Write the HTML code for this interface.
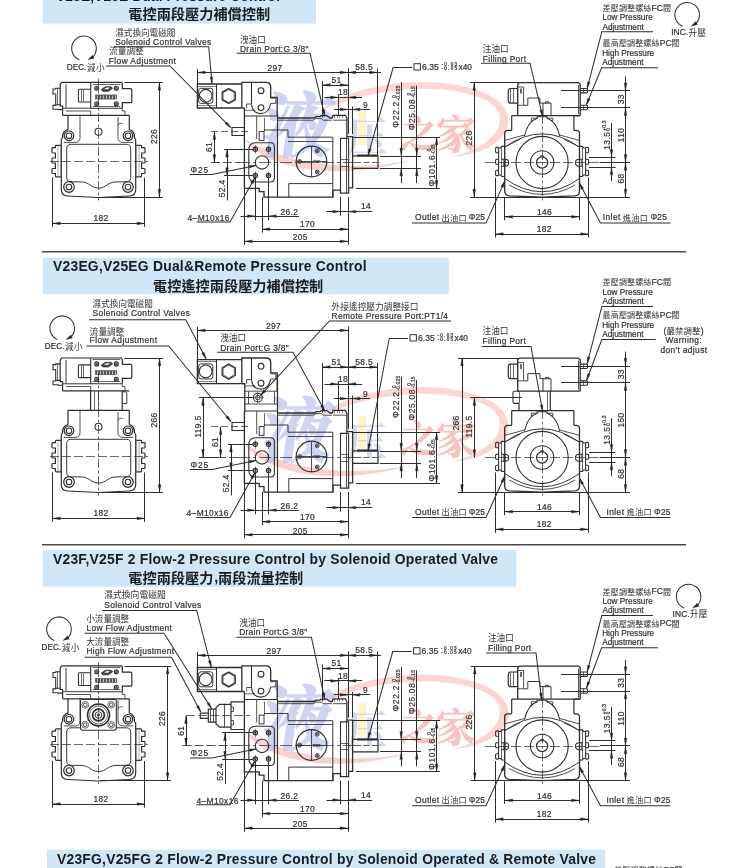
<!DOCTYPE html>
<html lang="zh-Hant"><head><meta charset="utf-8"><title>V23/V25 Pressure Control Dimensions</title>
<style>
html,body{margin:0;padding:0;background:#fff}
body{width:750px;height:868px;overflow:hidden;font-family:"Liberation Sans",sans-serif}
svg{display:block;will-change:transform;filter:blur(0.35px);font-family:"Liberation Sans",sans-serif}
.cj{font-family:"Liberation Sans","Noto Sans CJK TC",sans-serif}
.wm{font-family:"Liberation Serif","Noto Serif CJK SC",serif;font-weight:700}
</style></head><body>
<svg width="750" height="868" viewBox="0 0 750 868">
<defs><filter id="wb" x="-5%" y="-5%" width="110%" height="110%"><feGaussianBlur stdDeviation="0.7"/></filter></defs>
<rect x="42.8" y="-5" width="273.2" height="28.6" fill="#d0e7f8"/>
<text x="56" y="0.9" font-size="13.9" font-weight="700" textLength="224" lengthAdjust="spacing" fill="#1c1c1c">V23E,V25E Dual Pressure Control</text>
<text class="cj" x="128.3" y="18.6" font-size="14.2" font-weight="700" fill="#1c1c1c">電控兩段壓力補償控制</text>
<rect x="42.8" y="257.8" width="406" height="36.4" fill="#d0e7f8"/>
<text x="53" y="271.4" font-size="13.9" font-weight="700" textLength="313.6" lengthAdjust="spacing" fill="#1c1c1c">V23EG,V25EG Dual&amp;Remote Pressure Control</text>
<text class="cj" x="153" y="290.6" font-size="14.2" font-weight="700" fill="#1c1c1c">電控遙控兩段壓力補償控制</text>
<rect x="42.8" y="550.2" width="473.6" height="36.6" fill="#d0e7f8"/>
<text x="53" y="563.8" font-size="13.9" font-weight="700" textLength="445" lengthAdjust="spacing" fill="#1c1c1c">V23F,V25F 2 Flow-2 Pressure Control by Solenoid Operated Valve</text>
<text class="cj" x="128.3" y="582.6" font-size="14.2" font-weight="700" fill="#1c1c1c">電控兩段壓力</text>
<text x="214.3" y="582.1" font-size="14" font-weight="700" fill="#1c1c1c">,</text>
<text class="cj" x="218" y="582.6" font-size="14.2" font-weight="700" fill="#1c1c1c">兩段流量控制</text>
<rect x="47" y="849.8" width="558.2" height="25.2" fill="#d0e7f8"/>
<text x="57" y="863.7" font-size="13.9" font-weight="700" textLength="539" lengthAdjust="spacing" fill="#1c1c1c">V23FG,V25FG 2 Flow-2 Pressure Control by Solenoid Operated &amp; Remote Valve</text>
<rect x="42" y="251" width="644" height="1.5" fill="#4a4a4a"/>
<rect x="42" y="544" width="644" height="1.5" fill="#4a4a4a"/>
<g transform="translate(0 0)" filter="url(#wb)">
<path d="M245,139 C262,166 330,184 412,160 C352,172 290,166 245,139Z" fill="#f4a6a2" opacity="0.52"/>
<path d="M318,112 C350,84 430,72 482,92 C510,103 516,124 499,140 C488,150 472,155 452,157 C476,150 490,142 497,130 C506,112 494,100 468,94 C420,82 362,92 318,112Z" fill="#f4a6a2" opacity="0.45"/>
<g transform="translate(260 151) skewX(-8)">
<text class="wm" x="0" y="0" font-size="70" fill="#b4c0e8" stroke="#b4c0e8" stroke-width="1.54" stroke-linejoin="round" opacity="0.66">液</text>
</g>
<rect x="358" y="111" width="8.5" height="34" fill="#fbefb4" opacity="0.7"/>
<text class="wm" x="347" y="151" font-size="40" fill="#c0c9ec" opacity="0.7">压</text>
<text class="wm" x="400" y="147" font-size="38" fill="#f29e99" stroke="#f29e99" stroke-width="0.53" stroke-linejoin="round" opacity="0.62">之</text>
<text class="wm" x="436" y="149" font-size="40" fill="#f29e99" stroke="#f29e99" stroke-width="0.56" stroke-linejoin="round" opacity="0.62">家</text>
</g>
<g transform="translate(0 305)" filter="url(#wb)">
<path d="M245,139 C262,166 330,184 412,160 C352,172 290,166 245,139Z" fill="#f4a6a2" opacity="0.52"/>
<path d="M318,112 C350,84 430,72 482,92 C510,103 516,124 499,140 C488,150 472,155 452,157 C476,150 490,142 497,130 C506,112 494,100 468,94 C420,82 362,92 318,112Z" fill="#f4a6a2" opacity="0.45"/>
<g transform="translate(260 151) skewX(-8)">
<text class="wm" x="0" y="0" font-size="70" fill="#b4c0e8" stroke="#b4c0e8" stroke-width="1.54" stroke-linejoin="round" opacity="0.66">液</text>
</g>
<rect x="358" y="111" width="8.5" height="34" fill="#fbefb4" opacity="0.7"/>
<text class="wm" x="347" y="151" font-size="40" fill="#c0c9ec" opacity="0.7">压</text>
<text class="wm" x="400" y="147" font-size="38" fill="#f29e99" stroke="#f29e99" stroke-width="0.53" stroke-linejoin="round" opacity="0.62">之</text>
<text class="wm" x="436" y="149" font-size="40" fill="#f29e99" stroke="#f29e99" stroke-width="0.56" stroke-linejoin="round" opacity="0.62">家</text>
</g>
<g transform="translate(0 592.5)" filter="url(#wb)">
<path d="M245,139 C262,166 330,184 412,160 C352,172 290,166 245,139Z" fill="#f4a6a2" opacity="0.52"/>
<path d="M318,112 C350,84 430,72 482,92 C510,103 516,124 499,140 C488,150 472,155 452,157 C476,150 490,142 497,130 C506,112 494,100 468,94 C420,82 362,92 318,112Z" fill="#f4a6a2" opacity="0.45"/>
<g transform="translate(260 151) skewX(-8)">
<text class="wm" x="0" y="0" font-size="70" fill="#b4c0e8" stroke="#b4c0e8" stroke-width="1.54" stroke-linejoin="round" opacity="0.66">液</text>
</g>
<rect x="358" y="111" width="8.5" height="34" fill="#fbefb4" opacity="0.7"/>
<text class="wm" x="347" y="151" font-size="40" fill="#c0c9ec" opacity="0.7">压</text>
<text class="wm" x="400" y="147" font-size="38" fill="#f29e99" stroke="#f29e99" stroke-width="0.53" stroke-linejoin="round" opacity="0.62">之</text>
<text class="wm" x="436" y="149" font-size="40" fill="#f29e99" stroke="#f29e99" stroke-width="0.56" stroke-linejoin="round" opacity="0.62">家</text>
</g>
<g transform="translate(0 0)">
<path d="M60.2,84.3 L61.8,82.4 H121.5 L122.3,83.5 V88.7 H130.5 Q131.8,88.7 131.8,90 V101.4 Q131.8,102.7 130.5,102.7 H122.3 V108.2" stroke="#2e2e2e" stroke-width="1.2" fill="none"/>
<path d="M60.2,84.3 V106 H62.6 V115.3" stroke="#2e2e2e" stroke-width="1.2" fill="none"/>
<path d="M60.2,88.3 H55.7 V89 H53 V94 H55.7 V94.7" stroke="#2e2e2e" stroke-width="1.08" fill="none"/>
<path d="M55.7,94.7 V105 M60.2,104.8 H55.7 V105.4 H53 V109.2 H58 V109.6 H62.6" stroke="#2e2e2e" stroke-width="1.08" fill="none"/>
<line x1="57.5" y1="88.3" x2="57.5" y2="105" stroke="#2e2e2e" stroke-width="0.72"/>
<path d="M66,84.3 V108.2 H90.7" stroke="#2e2e2e" stroke-width="0.96" fill="none"/>
<path d="M62.6,108.2 H66 M66,111 H90.7 V115.3" stroke="#2e2e2e" stroke-width="0.84" fill="none"/>
<path d="M90.7,89.3 H79.5 Q78.4,89.3 78.4,90.4 V100.9 Q78.4,102 79.5,102 H90.7" stroke="#2e2e2e" stroke-width="1.08" fill="none"/>
<line x1="81.5" y1="90" x2="81.5" y2="101.3" stroke="#2e2e2e" stroke-width="0.72"/>
<line x1="83.5" y1="90" x2="83.5" y2="101.3" stroke="#2e2e2e" stroke-width="0.72"/>
<path d="M90.7,82.4 V108.2 H122.3" stroke="#2e2e2e" stroke-width="1.08" fill="none"/>
<line x1="92.7" y1="84.5" x2="120.3" y2="84.5" stroke="#2e2e2e" stroke-width="0.72"/>
<line x1="92.7" y1="106.5" x2="120.3" y2="106.5" stroke="#2e2e2e" stroke-width="0.72"/>
<circle cx="96.7" cy="88.3" r="2" stroke="#2e2e2e" stroke-width="1.08" fill="none"/>
<circle cx="96.7" cy="88.3" r="1" stroke="#2e2e2e" stroke-width="0.72" fill="#777"/>
<circle cx="96.7" cy="103.7" r="2" stroke="#2e2e2e" stroke-width="1.08" fill="none"/>
<circle cx="96.7" cy="103.7" r="1" stroke="#2e2e2e" stroke-width="0.72" fill="#777"/>
<circle cx="116.3" cy="88.3" r="2" stroke="#2e2e2e" stroke-width="1.08" fill="none"/>
<circle cx="116.3" cy="88.3" r="1" stroke="#2e2e2e" stroke-width="0.72" fill="#777"/>
<circle cx="116.3" cy="103.7" r="2" stroke="#2e2e2e" stroke-width="1.08" fill="none"/>
<circle cx="116.3" cy="103.7" r="1" stroke="#2e2e2e" stroke-width="0.72" fill="#777"/>
<path d="M101.2,89.6 L105.6,86.7 H111 L112.6,88.3 L108.4,91.3 H102.8Z" stroke="#2e2e2e" stroke-width="0.84" fill="#444"/>
<path d="M104.6,89.1 L106.4,87.8 H109.6 L108,89.1Z" stroke="#fff" stroke-width="0.36" fill="#fff"/>
<rect x="95.4" y="94.9" width="21.4" height="4.2" stroke="#2e2e2e" stroke-width="0.36" fill="#555"/>
<line x1="97.5" y1="95.6" x2="97.5" y2="98.6" stroke="#ddd" stroke-width="0.84"/>
<line x1="100.5" y1="95.6" x2="100.5" y2="98.6" stroke="#ddd" stroke-width="0.84"/>
<line x1="103.5" y1="95.6" x2="103.5" y2="98.6" stroke="#ddd" stroke-width="0.84"/>
<line x1="106.5" y1="95.6" x2="106.5" y2="98.6" stroke="#ddd" stroke-width="0.84"/>
<line x1="109.5" y1="95.6" x2="109.5" y2="98.6" stroke="#ddd" stroke-width="0.84"/>
<line x1="112.5" y1="95.6" x2="112.5" y2="98.6" stroke="#ddd" stroke-width="0.84"/>
<line x1="115.5" y1="95.6" x2="115.5" y2="98.6" stroke="#ddd" stroke-width="0.84"/>
<path d="M62.6,115.3 H129.3" stroke="#2e2e2e" stroke-width="1.2" fill="none"/>
<path d="M122.3,108.2 V111 H125 V115.3" stroke="#2e2e2e" stroke-width="0.84" fill="none"/>
<path d="M68,115.3 V129.7 M129.3,115.3 V129.7" stroke="#2e2e2e" stroke-width="1.2" fill="none"/>
<path d="M80,115.3 V137.5 Q80,142.4 75,142.4 H63.8" stroke="#2e2e2e" stroke-width="0.84" fill="none"/>
<path d="M118,117 V137.5 Q118,142.4 123,142.4 H133.2" stroke="#2e2e2e" stroke-width="0.84" fill="none"/>
<path d="M118,125.7 Q118,123.3 120.2,123.3 H123" stroke="#2e2e2e" stroke-width="0.72" fill="none"/>
<path d="M68,129.7 A6.4,6.4 0 0 0 62.7,137.2 L61.3,139.8 V189.5 Q61.3,195.6 67.5,196 L98.5,197.5 L129.5,196 Q135.7,195.6 135.7,189.5 V139.8 L134.3,137.2 A6.4,6.4 0 0 0 129.3,129.7" stroke="#2e2e2e" stroke-width="1.2" fill="none"/>
<circle cx="69" cy="135.8" r="4.8" stroke="#2e2e2e" stroke-width="1.2" fill="none"/>
<circle cx="69" cy="135.8" r="2.8" stroke="#2e2e2e" stroke-width="1.08" fill="none"/>
<circle cx="69" cy="187" r="5.3" stroke="#2e2e2e" stroke-width="1.2" fill="none"/>
<circle cx="69" cy="187" r="2.8" stroke="#2e2e2e" stroke-width="1.08" fill="none"/>
<circle cx="128" cy="135.8" r="4.8" stroke="#2e2e2e" stroke-width="1.2" fill="none"/>
<circle cx="128" cy="135.8" r="2.8" stroke="#2e2e2e" stroke-width="1.08" fill="none"/>
<circle cx="128" cy="187" r="5.3" stroke="#2e2e2e" stroke-width="1.2" fill="none"/>
<circle cx="128" cy="187" r="2.8" stroke="#2e2e2e" stroke-width="1.08" fill="none"/>
<path d="M66.7,148.5 Q66.7,144.3 71,144.3 H126.3 Q130.7,144.3 130.7,148.5 V177.5 Q130.7,181.8 126,181.8 L116,181.9 C107,182.3 106.5,188 98.6,188 C90.5,188 90,182.3 81.5,181.9 L71,181.8 Q66.7,181.8 66.7,177.5Z" stroke="#2e2e2e" stroke-width="0.96" fill="none"/>
<path d="M61.3,145.3 H56.4 Q55.4,145.3 55.4,146.3 V147.6 V147.6 H52.8 Q52,147.6 52,148.4 V152.2 Q52,153 52.8,153 H55.4 V158 H52.8 Q52,158 52,158.8 V162.2 Q52,163 52.8,163 H55.4 V168.5 H52.8 Q52,168.5 52,169.3 V172.7 Q52,173.5 52.8,173.5 H55.4 V175.8 Q55.4,176.8 56.4,176.8 H61.3" stroke="#2e2e2e" stroke-width="1.2" fill="none"/>
<path d="M60.5,145.3 V176.8 M58,145.3 V176.8" stroke="#777" stroke-width="0.6" fill="none"/>
<path d="M135.7,145.3 H140.6 Q141.6,145.3 141.6,146.3 V147.6 V147.6 H144.2 Q145,147.6 145,148.4 V152.2 Q145,153 144.2,153 H141.6 V158 H144.2 Q145,158 145,158.8 V162.2 Q145,163 144.2,163 H141.6 V168.5 H144.2 Q145,168.5 145,169.3 V172.7 Q145,173.5 144.2,173.5 H141.6 V175.8 Q141.6,176.8 140.6,176.8 H135.7" stroke="#2e2e2e" stroke-width="1.2" fill="none"/>
<path d="M136.5,145.3 V176.8 M139,145.3 V176.8" stroke="#777" stroke-width="0.6" fill="none"/>
<circle cx="98.5" cy="131.7" r="3.5" stroke="#2e2e2e" stroke-width="1.08" fill="none"/>
<line x1="98.5" y1="79" x2="98.5" y2="200.5" stroke="#2e2e2e" stroke-width="0.72" stroke-dasharray="9 2.5 3 2.5"/>
<line x1="50" y1="161.5" x2="148" y2="161.5" stroke="#2e2e2e" stroke-width="0.72" stroke-dasharray="9 3"/>
</g>
<g transform="translate(0 0)">
<path d="M241.8,84 H197.4 V108 H241.8" stroke="#2e2e2e" stroke-width="1.32" fill="none"/>
<line x1="216.5" y1="84" x2="216.5" y2="108" stroke="#2e2e2e" stroke-width="1.08"/>
<line x1="197.4" y1="86.5" x2="216.3" y2="86.5" stroke="#2e2e2e" stroke-width="0.6"/>
<line x1="197.4" y1="105.5" x2="216.3" y2="105.5" stroke="#2e2e2e" stroke-width="0.6"/>
<rect x="198.7" y="88.3" width="14.1" height="15" rx="2.2" stroke="#2e2e2e" stroke-width="0.96" fill="none"/>
<circle cx="205.7" cy="95.8" r="6.4" stroke="#2e2e2e" stroke-width="1.08" fill="none"/>
<path d="M228.7,88.4 L235.28,92.2 L235.28,99.8 L228.7,103.6 L222.12,99.8 L222.12,92.2Z" stroke="#2e2e2e" stroke-width="1.2" fill="none"/>
<path d="M228.7,89.5 L234.33,92.75 L234.33,99.25 L228.7,102.5 L223.07,99.25 L223.07,92.75Z" stroke="#2e2e2e" stroke-width="0.72" fill="none"/>
<path d="M241.8,108 V82.4 H266 Q270.7,82.4 270.7,87.2 V97.3 H277.2 V116" stroke="#2e2e2e" stroke-width="1.32" fill="none"/>
<line x1="251.5" y1="82.4" x2="251.5" y2="104.5" stroke="#2e2e2e" stroke-width="1.08"/>
<path d="M251.7,104.5 Q252.3,113.4 261,113.6 Q268.8,113.4 270.7,103.5" stroke="#2e2e2e" stroke-width="1.08" fill="none"/>
<circle cx="261" cy="90.7" r="2.9" stroke="#2e2e2e" stroke-width="1.08" fill="none"/>
<circle cx="261" cy="107.6" r="2.9" stroke="#2e2e2e" stroke-width="1.08" fill="none"/>
<path d="M246.6,108 V104 H251.7" stroke="#2e2e2e" stroke-width="0.84" fill="none"/>
<path d="M270.7,98.2 H275.8 V103.4 H270.7" stroke="#2e2e2e" stroke-width="0.84" fill="none"/>
<path d="M241.8,108 H244.4" stroke="#2e2e2e" stroke-width="1.32" fill="none"/>
<path d="M244.4,110.3 H255" stroke="#2e2e2e" stroke-width="0.72" fill="none"/>
<path d="M244.4,108 V188.4 H259.2 V191.6 H264 V197.2 H333 V190.2 H340.5 V193.1 H348.6 V187.9 H352.6 V136.7 H346.9 V118" stroke="#2e2e2e" stroke-width="1.32" fill="none"/>
<path d="M244.4,116 H277.2" stroke="#2e2e2e" stroke-width="1.08" fill="none"/>
<line x1="277.5" y1="116" x2="277.5" y2="197.2" stroke="#2e2e2e" stroke-width="1.08"/>
<path d="M277.2,118 H314.5 L316,116.6 H320 L321,115.6 H327 L328,116.6 L330,118 H332 L333,115.4 H345.4 L346.9,118" stroke="#2e2e2e" stroke-width="1.32" fill="none"/>
<path d="M277.2,120.2 H313 L315.5,118.6 H321.5 L323,120.2 H332" stroke="#2e2e2e" stroke-width="0.84" fill="none"/>
<line x1="334.5" y1="115.4" x2="334.5" y2="118" stroke="#2e2e2e" stroke-width="0.6"/>
<line x1="337.5" y1="115.4" x2="337.5" y2="118" stroke="#2e2e2e" stroke-width="0.6"/>
<line x1="339.5" y1="115.4" x2="339.5" y2="118" stroke="#2e2e2e" stroke-width="0.6"/>
<line x1="342.5" y1="115.4" x2="342.5" y2="118" stroke="#2e2e2e" stroke-width="0.6"/>
<path d="M333,120.2 H346.9" stroke="#2e2e2e" stroke-width="0.84" fill="none"/>
<path d="M340.5,190.2 V138.4 H348.6 V187.9" stroke="#2e2e2e" stroke-width="1.08" fill="none"/>
<line x1="346.5" y1="136.7" x2="346.5" y2="193.1" stroke="#2e2e2e" stroke-width="0.84"/>
<line x1="340.5" y1="159.5" x2="348.6" y2="159.5" stroke="#2e2e2e" stroke-width="0.72"/>
<line x1="340.5" y1="166.5" x2="348.6" y2="166.5" stroke="#2e2e2e" stroke-width="0.72"/>
<path d="M352.6,155.8 H378 V168.3 H352.6" stroke="#2e2e2e" stroke-width="1.2" fill="none"/>
<line x1="357" y1="155.5" x2="377.4" y2="155.5" stroke="#2e2e2e" stroke-width="2.04"/>
<line x1="355" y1="162.5" x2="381" y2="162.5" stroke="#2e2e2e" stroke-width="0.72" stroke-dasharray="6 2.5"/>
<path d="M264,130 H288 V137.2 H332.8 V197.2" stroke="#2e2e2e" stroke-width="0.96" fill="none"/>
<line x1="288" y1="141.5" x2="332.8" y2="141.5" stroke="#2e2e2e" stroke-width="0.84"/>
<path d="M256.7,116 V139" stroke="#2e2e2e" stroke-width="0.84" fill="none"/>
<rect x="259.2" y="131.6" width="4.8" height="8.8" stroke="#2e2e2e" stroke-width="0.96" fill="none"/>
<line x1="264.5" y1="118" x2="264.5" y2="131.6" stroke="#2e2e2e" stroke-width="0.72"/>
<path d="M255.5,142.8 H270.5 Q274.4,142.8 274.4,146.8 V178 Q274.4,182 270.5,182 H255.5 Q248.8,182 248.8,175 V150 Q248.8,142.8 255.5,142.8Z" stroke="#2e2e2e" stroke-width="1.08" fill="none"/>
<circle cx="255.3" cy="149.3" r="2.2" stroke="#2e2e2e" stroke-width="1.08" fill="none"/>
<circle cx="255.3" cy="149.3" r="1" stroke="#2e2e2e" stroke-width="0.6" fill="#666"/>
<line x1="255.5" y1="145.3" x2="255.5" y2="153.8" stroke="#2e2e2e" stroke-width="0.6"/>
<circle cx="255.3" cy="175.6" r="2.2" stroke="#2e2e2e" stroke-width="1.08" fill="none"/>
<circle cx="255.3" cy="175.6" r="1" stroke="#2e2e2e" stroke-width="0.6" fill="#666"/>
<line x1="255.5" y1="171.6" x2="255.5" y2="180.1" stroke="#2e2e2e" stroke-width="0.6"/>
<circle cx="268.5" cy="149.3" r="2.2" stroke="#2e2e2e" stroke-width="1.08" fill="none"/>
<circle cx="268.5" cy="149.3" r="1" stroke="#2e2e2e" stroke-width="0.6" fill="#666"/>
<line x1="268.5" y1="145.3" x2="268.5" y2="153.8" stroke="#2e2e2e" stroke-width="0.6"/>
<circle cx="268.5" cy="175.6" r="2.2" stroke="#2e2e2e" stroke-width="1.08" fill="none"/>
<circle cx="268.5" cy="175.6" r="1" stroke="#2e2e2e" stroke-width="0.6" fill="#666"/>
<line x1="268.5" y1="171.6" x2="268.5" y2="180.1" stroke="#2e2e2e" stroke-width="0.6"/>
<circle cx="262" cy="162.4" r="6.7" stroke="#2e2e2e" stroke-width="1.08" fill="none"/>
<circle cx="311.5" cy="161.5" r="15.3" stroke="#2e2e2e" stroke-width="1.2" fill="none"/>
<circle cx="317.3" cy="150.8" r="1.9" stroke="#2e2e2e" stroke-width="0.96" fill="none"/>
<circle cx="317.3" cy="150.8" r="0.9" stroke="#2e2e2e" stroke-width="0.6" fill="#666"/>
<circle cx="299.6" cy="161.5" r="1.9" stroke="#2e2e2e" stroke-width="0.96" fill="none"/>
<circle cx="299.6" cy="161.5" r="0.9" stroke="#2e2e2e" stroke-width="0.6" fill="#666"/>
<circle cx="317.3" cy="172" r="1.9" stroke="#2e2e2e" stroke-width="0.96" fill="none"/>
<circle cx="317.3" cy="172" r="0.9" stroke="#2e2e2e" stroke-width="0.6" fill="#666"/>
<line x1="311.5" y1="146.5" x2="311.5" y2="176.5" stroke="#2e2e2e" stroke-width="0.84"/>
<line x1="297" y1="161.5" x2="326.5" y2="161.5" stroke="#2e2e2e" stroke-width="0.84"/>
<rect x="313.5" y="160.8" width="6.5" height="1.8" stroke="#2e2e2e" stroke-width="0.6" fill="none"/>
<path d="M288.8,197.2 V183.6 H332.8" stroke="#2e2e2e" stroke-width="0.96" fill="none"/>
<line x1="238" y1="162.5" x2="358" y2="162.5" stroke="#2e2e2e" stroke-width="0.72" stroke-dasharray="12 3 3 3"/>
<path d="M244.4,127.5 H232 V135.5 H244.4" stroke="#2e2e2e" stroke-width="1.2" fill="none"/>
<line x1="211" y1="131.5" x2="249" y2="131.5" stroke="#2e2e2e" stroke-width="0.72" stroke-dasharray="7 3"/>
</g>
<g transform="translate(0 0)">
<path d="M519.3,82.6 H578.6 L580.2,84.2 V115.6 M517.7,115.6 V84.2 L519.3,82.6" stroke="#2e2e2e" stroke-width="1.32" fill="none"/>
<path d="M517.7,88.5 H510.5 Q508.3,88.5 508.3,90.7 V100.9 Q508.3,103.1 510.5,103.1 H517.7" stroke="#2e2e2e" stroke-width="1.2" fill="none"/>
<line x1="510.5" y1="89" x2="510.5" y2="102.6" stroke="#2e2e2e" stroke-width="0.72"/>
<line x1="513.5" y1="88.5" x2="513.5" y2="103.1" stroke="#2e2e2e" stroke-width="0.72"/>
<path d="M517.7,87 H523.6 V105.3 H517.7" stroke="#2e2e2e" stroke-width="0.84" fill="none"/>
<line x1="520.5" y1="88.5" x2="520.5" y2="93.5" stroke="#2e2e2e" stroke-width="0.72"/>
<line x1="521.5" y1="88.5" x2="521.5" y2="93.5" stroke="#2e2e2e" stroke-width="0.72"/>
<line x1="578.5" y1="85" x2="578.5" y2="114" stroke="#2e2e2e" stroke-width="0.84"/>
<path d="M580.2,88.5 H586.6 Q587.5,88.5 587.5,89.4 V92 Q587.5,92.9 586.6,92.9 H580.2" stroke="#2e2e2e" stroke-width="1.08" fill="none"/>
<line x1="583.5" y1="88.5" x2="583.5" y2="92.9" stroke="#2e2e2e" stroke-width="0.72"/>
<path d="M580.2,105.3 H586.6 Q587.5,105.3 587.5,106.2 V108.8 Q587.5,109.7 586.6,109.7 H580.2" stroke="#2e2e2e" stroke-width="1.08" fill="none"/>
<line x1="583.5" y1="105.3" x2="583.5" y2="109.7" stroke="#2e2e2e" stroke-width="0.72"/>
<path d="M523.6,105.3 H527.8 V98 H539.9 V103 H543 V115.6" stroke="#2e2e2e" stroke-width="0.96" fill="none"/>
<path d="M543,103.2 H551 V115.6 M545.4,103.2 V101.8 H548.8 V103.2" stroke="#2e2e2e" stroke-width="0.96" fill="none"/>
<path d="M517.7,115.6 H580.2" stroke="#2e2e2e" stroke-width="1.2" fill="none"/>
<path d="M517.7,115.6 H511.7 M573.9,115.6 H580.2" stroke="#2e2e2e" stroke-width="1.2" fill="none"/>
<path d="M511.7,115.6 V130.3 M573.9,115.6 V130.3" stroke="#2e2e2e" stroke-width="1.2" fill="none"/>
<path d="M511.7,130.3 H508 Q504.7,130.3 504.7,133.6 V191 Q504.7,195.6 509.5,195.9 L542.1,197.2 L574.7,195.9 Q579.5,195.6 579.5,191 V133.6 Q579.5,130.3 576.2,130.3 H573.9" stroke="#2e2e2e" stroke-width="1.32" fill="none"/>
<path d="M542.1,116.7 H537.2 V118.2 C529.5,120.6 526.2,128.5 524.5,136" stroke="#2e2e2e" stroke-width="1.08" fill="none"/>
<path d="M537.2,118.2 H531.4 V121 H532.8" stroke="#2e2e2e" stroke-width="0.84" fill="none"/>
<line x1="504.7" y1="140.4" x2="524.5" y2="135" stroke="#2e2e2e" stroke-width="0.84"/>
<line x1="504.7" y1="147" x2="520.3" y2="139.2" stroke="#2e2e2e" stroke-width="0.84"/>
<path d="M504.7,146.4 H501.8 L500.6,148 H498.6 V175 H500.6 L501.8,176.5 H504.7" stroke="#2e2e2e" stroke-width="1.08" fill="none"/>
<line x1="501.5" y1="146.4" x2="501.5" y2="176.5" stroke="#2e2e2e" stroke-width="0.72"/>
<path d="M498.6,147.4 H496.6 Q495.6,147.4 495.6,148.4 V151.8 Q495.6,152.8 496.6,152.8 H498.6" stroke="#2e2e2e" stroke-width="1.08" fill="none"/>
<path d="M498.6,159.2 H496.6 Q495.6,159.2 495.6,160.2 V163.2 Q495.6,164.2 496.6,164.2 H498.6" stroke="#2e2e2e" stroke-width="1.08" fill="none"/>
<path d="M498.6,170.2 H496.6 Q495.6,170.2 495.6,171.2 V174.6 Q495.6,175.6 496.6,175.6 H498.6" stroke="#2e2e2e" stroke-width="1.08" fill="none"/>
<path d="M501,159.2 H505.2 A3.5,3.5 0 0 1 505.2,166.2 H501" stroke="#2e2e2e" stroke-width="1.08" fill="none"/>
<line x1="503.5" y1="159.2" x2="503.5" y2="166.2" stroke="#2e2e2e" stroke-width="0.6"/>
<line x1="505.5" y1="159.2" x2="505.5" y2="166.2" stroke="#2e2e2e" stroke-width="0.6"/>
<path d="M542.1,116.7 H547 V118.2 C554.7,120.6 558,128.5 559.7,136" stroke="#2e2e2e" stroke-width="1.08" fill="none"/>
<path d="M547,118.2 H552.8 V121 H551.4" stroke="#2e2e2e" stroke-width="0.84" fill="none"/>
<line x1="579.5" y1="140.4" x2="559.7" y2="135" stroke="#2e2e2e" stroke-width="0.84"/>
<line x1="579.5" y1="147" x2="563.9" y2="139.2" stroke="#2e2e2e" stroke-width="0.84"/>
<path d="M579.5,146.4 H582.4 L583.6,148 H585.6 V175 H583.6 L582.4,176.5 H579.5" stroke="#2e2e2e" stroke-width="1.08" fill="none"/>
<line x1="582.5" y1="146.4" x2="582.5" y2="176.5" stroke="#2e2e2e" stroke-width="0.72"/>
<path d="M585.6,147.4 H587.6 Q588.6,147.4 588.6,148.4 V151.8 Q588.6,152.8 587.6,152.8 H585.6" stroke="#2e2e2e" stroke-width="1.08" fill="none"/>
<path d="M585.6,159.2 H587.6 Q588.6,159.2 588.6,160.2 V163.2 Q588.6,164.2 587.6,164.2 H585.6" stroke="#2e2e2e" stroke-width="1.08" fill="none"/>
<path d="M585.6,170.2 H587.6 Q588.6,170.2 588.6,171.2 V174.6 Q588.6,175.6 587.6,175.6 H585.6" stroke="#2e2e2e" stroke-width="1.08" fill="none"/>
<path d="M583.2,159.2 H579 A3.5,3.5 0 0 0 579,166.2 H583.2" stroke="#2e2e2e" stroke-width="1.08" fill="none"/>
<line x1="581.5" y1="159.2" x2="581.5" y2="166.2" stroke="#2e2e2e" stroke-width="0.6"/>
<line x1="579.5" y1="159.2" x2="579.5" y2="166.2" stroke="#2e2e2e" stroke-width="0.6"/>
<path d="M504.7,147.2 Q542.1,120.5 579.5,147.2" stroke="#2e2e2e" stroke-width="0.96" fill="none"/>
<path d="M504.7,178.5 Q542.1,205 579.5,178.5" stroke="#2e2e2e" stroke-width="0.96" fill="none"/>
<path d="M509,185 Q542.1,203.8 575.2,185" stroke="#2e2e2e" stroke-width="0.84" fill="none"/>
<circle cx="542.1" cy="162.5" r="26.1" stroke="#2e2e2e" stroke-width="1.08" fill="none"/>
<circle cx="542.1" cy="162.5" r="11.7" stroke="#2e2e2e" stroke-width="1.08" fill="none"/>
<circle cx="542.1" cy="162.5" r="5.6" stroke="#2e2e2e" stroke-width="1.2" fill="none"/>
<path d="M540.8,157.1 V155.7 H543.4 V157.1" stroke="#2e2e2e" stroke-width="0.84" fill="none"/>
<line x1="542.5" y1="114" x2="542.5" y2="200.5" stroke="#2e2e2e" stroke-width="0.72" stroke-dasharray="10 2.5 3 2.5"/>
<line x1="485" y1="162.5" x2="600" y2="162.5" stroke="#2e2e2e" stroke-width="0.72" stroke-dasharray="10 3"/>
</g>
<g transform="translate(0 295)">
<g transform="translate(0 -19.4)">
<path d="M60.2,84.3 L61.8,82.4 H121.5 L122.3,83.5 V88.7 H130.5 Q131.8,88.7 131.8,90 V101.4 Q131.8,102.7 130.5,102.7 H122.3 V108.2" stroke="#2e2e2e" stroke-width="1.2" fill="none"/>
<path d="M60.2,84.3 V106 H62.6 V115.3" stroke="#2e2e2e" stroke-width="1.2" fill="none"/>
<path d="M60.2,88.3 H55.7 V89 H53 V94 H55.7 V94.7" stroke="#2e2e2e" stroke-width="1.08" fill="none"/>
<path d="M55.7,94.7 V105 M60.2,104.8 H55.7 V105.4 H53 V109.2 H58 V109.6 H62.6" stroke="#2e2e2e" stroke-width="1.08" fill="none"/>
<line x1="57.5" y1="88.3" x2="57.5" y2="105" stroke="#2e2e2e" stroke-width="0.72"/>
<path d="M66,84.3 V108.2 H90.7" stroke="#2e2e2e" stroke-width="0.96" fill="none"/>
<path d="M62.6,108.2 H66 M66,111 H90.7 V115.3" stroke="#2e2e2e" stroke-width="0.84" fill="none"/>
<path d="M90.7,89.3 H79.5 Q78.4,89.3 78.4,90.4 V100.9 Q78.4,102 79.5,102 H90.7" stroke="#2e2e2e" stroke-width="1.08" fill="none"/>
<line x1="81.5" y1="90" x2="81.5" y2="101.3" stroke="#2e2e2e" stroke-width="0.72"/>
<line x1="83.5" y1="90" x2="83.5" y2="101.3" stroke="#2e2e2e" stroke-width="0.72"/>
<path d="M90.7,82.4 V108.2 H122.3" stroke="#2e2e2e" stroke-width="1.08" fill="none"/>
<line x1="92.7" y1="83.9" x2="120.3" y2="83.9" stroke="#2e2e2e" stroke-width="0.72"/>
<line x1="92.7" y1="105.9" x2="120.3" y2="105.9" stroke="#2e2e2e" stroke-width="0.72"/>
<circle cx="96.7" cy="88.3" r="2" stroke="#2e2e2e" stroke-width="1.08" fill="none"/>
<circle cx="96.7" cy="88.3" r="1" stroke="#2e2e2e" stroke-width="0.72" fill="#777"/>
<circle cx="96.7" cy="103.7" r="2" stroke="#2e2e2e" stroke-width="1.08" fill="none"/>
<circle cx="96.7" cy="103.7" r="1" stroke="#2e2e2e" stroke-width="0.72" fill="#777"/>
<circle cx="116.3" cy="88.3" r="2" stroke="#2e2e2e" stroke-width="1.08" fill="none"/>
<circle cx="116.3" cy="88.3" r="1" stroke="#2e2e2e" stroke-width="0.72" fill="#777"/>
<circle cx="116.3" cy="103.7" r="2" stroke="#2e2e2e" stroke-width="1.08" fill="none"/>
<circle cx="116.3" cy="103.7" r="1" stroke="#2e2e2e" stroke-width="0.72" fill="#777"/>
<path d="M101.2,89.6 L105.6,86.7 H111 L112.6,88.3 L108.4,91.3 H102.8Z" stroke="#2e2e2e" stroke-width="0.84" fill="#444"/>
<path d="M104.6,89.1 L106.4,87.8 H109.6 L108,89.1Z" stroke="#fff" stroke-width="0.36" fill="#fff"/>
<rect x="95.4" y="94.9" width="21.4" height="4.2" stroke="#2e2e2e" stroke-width="0.36" fill="#555"/>
<line x1="97.5" y1="95.6" x2="97.5" y2="98.6" stroke="#ddd" stroke-width="0.84"/>
<line x1="100.5" y1="95.6" x2="100.5" y2="98.6" stroke="#ddd" stroke-width="0.84"/>
<line x1="103.5" y1="95.6" x2="103.5" y2="98.6" stroke="#ddd" stroke-width="0.84"/>
<line x1="106.5" y1="95.6" x2="106.5" y2="98.6" stroke="#ddd" stroke-width="0.84"/>
<line x1="109.5" y1="95.6" x2="109.5" y2="98.6" stroke="#ddd" stroke-width="0.84"/>
<line x1="112.5" y1="95.6" x2="112.5" y2="98.6" stroke="#ddd" stroke-width="0.84"/>
<line x1="115.5" y1="95.6" x2="115.5" y2="98.6" stroke="#ddd" stroke-width="0.84"/>
<path d="M62.6,115.3 H129.3" stroke="#2e2e2e" stroke-width="1.2" fill="none"/>
<path d="M122.3,108.2 V111 H125 V115.3" stroke="#2e2e2e" stroke-width="0.84" fill="none"/>
</g>
<path d="M90.6,95.9 V116 M122.2,95.9 V116" stroke="#2e2e2e" stroke-width="1.2" fill="none"/>
<path d="M122.2,96.8 H125.6 Q126.8,96.8 126.8,98 V108.6 H122.2" stroke="#2e2e2e" stroke-width="0.96" fill="none"/>
<line x1="94.5" y1="96.5" x2="94.5" y2="116" stroke="#2e2e2e" stroke-width="0.72"/>
<line x1="98.5" y1="96" x2="98.5" y2="116" stroke="#2e2e2e" stroke-width="0.72"/>
<path d="M68,115.3 H129.3" stroke="#2e2e2e" stroke-width="1.2" fill="none"/>
<path d="M68,115.3 V129.7 M129.3,115.3 V129.7" stroke="#2e2e2e" stroke-width="1.2" fill="none"/>
<path d="M80,115.3 V137.5 Q80,142.4 75,142.4 H63.8" stroke="#2e2e2e" stroke-width="0.84" fill="none"/>
<path d="M118,117 V137.5 Q118,142.4 123,142.4 H133.2" stroke="#2e2e2e" stroke-width="0.84" fill="none"/>
<path d="M118,125.7 Q118,123.3 120.2,123.3 H123" stroke="#2e2e2e" stroke-width="0.72" fill="none"/>
<path d="M68,129.7 A6.4,6.4 0 0 0 62.7,137.2 L61.3,139.8 V189.5 Q61.3,195.6 67.5,196 L98.5,197.5 L129.5,196 Q135.7,195.6 135.7,189.5 V139.8 L134.3,137.2 A6.4,6.4 0 0 0 129.3,129.7" stroke="#2e2e2e" stroke-width="1.2" fill="none"/>
<circle cx="69" cy="135.8" r="4.8" stroke="#2e2e2e" stroke-width="1.2" fill="none"/>
<circle cx="69" cy="135.8" r="2.8" stroke="#2e2e2e" stroke-width="1.08" fill="none"/>
<circle cx="69" cy="187" r="5.3" stroke="#2e2e2e" stroke-width="1.2" fill="none"/>
<circle cx="69" cy="187" r="2.8" stroke="#2e2e2e" stroke-width="1.08" fill="none"/>
<circle cx="128" cy="135.8" r="4.8" stroke="#2e2e2e" stroke-width="1.2" fill="none"/>
<circle cx="128" cy="135.8" r="2.8" stroke="#2e2e2e" stroke-width="1.08" fill="none"/>
<circle cx="128" cy="187" r="5.3" stroke="#2e2e2e" stroke-width="1.2" fill="none"/>
<circle cx="128" cy="187" r="2.8" stroke="#2e2e2e" stroke-width="1.08" fill="none"/>
<path d="M66.7,148.5 Q66.7,144.3 71,144.3 H126.3 Q130.7,144.3 130.7,148.5 V177.5 Q130.7,181.8 126,181.8 L116,181.9 C107,182.3 106.5,188 98.6,188 C90.5,188 90,182.3 81.5,181.9 L71,181.8 Q66.7,181.8 66.7,177.5Z" stroke="#2e2e2e" stroke-width="0.96" fill="none"/>
<path d="M61.3,145.3 H56.4 Q55.4,145.3 55.4,146.3 V147.6 V147.6 H52.8 Q52,147.6 52,148.4 V152.2 Q52,153 52.8,153 H55.4 V158 H52.8 Q52,158 52,158.8 V162.2 Q52,163 52.8,163 H55.4 V168.5 H52.8 Q52,168.5 52,169.3 V172.7 Q52,173.5 52.8,173.5 H55.4 V175.8 Q55.4,176.8 56.4,176.8 H61.3" stroke="#2e2e2e" stroke-width="1.2" fill="none"/>
<path d="M60.5,145.3 V176.8 M58,145.3 V176.8" stroke="#777" stroke-width="0.6" fill="none"/>
<path d="M135.7,145.3 H140.6 Q141.6,145.3 141.6,146.3 V147.6 V147.6 H144.2 Q145,147.6 145,148.4 V152.2 Q145,153 144.2,153 H141.6 V158 H144.2 Q145,158 145,158.8 V162.2 Q145,163 144.2,163 H141.6 V168.5 H144.2 Q145,168.5 145,169.3 V172.7 Q145,173.5 144.2,173.5 H141.6 V175.8 Q141.6,176.8 140.6,176.8 H135.7" stroke="#2e2e2e" stroke-width="1.2" fill="none"/>
<path d="M136.5,145.3 V176.8 M139,145.3 V176.8" stroke="#777" stroke-width="0.6" fill="none"/>
<circle cx="98.5" cy="131.7" r="3.5" stroke="#2e2e2e" stroke-width="1.08" fill="none"/>
<line x1="98.5" y1="79" x2="98.5" y2="200.5" stroke="#2e2e2e" stroke-width="0.72" stroke-dasharray="9 2.5 3 2.5"/>
<line x1="50" y1="161.5" x2="148" y2="161.5" stroke="#2e2e2e" stroke-width="0.72" stroke-dasharray="9 3"/>
</g>
<g transform="translate(0 295)">
<g transform="translate(0 -19.4)">
<path d="M241.8,84 H197.4 V108 H241.8" stroke="#2e2e2e" stroke-width="1.32" fill="none"/>
<line x1="216.5" y1="84" x2="216.5" y2="108" stroke="#2e2e2e" stroke-width="1.08"/>
<line x1="197.4" y1="85.9" x2="216.3" y2="85.9" stroke="#2e2e2e" stroke-width="0.6"/>
<line x1="197.4" y1="105.9" x2="216.3" y2="105.9" stroke="#2e2e2e" stroke-width="0.6"/>
<rect x="198.7" y="88.3" width="14.1" height="15" rx="2.2" stroke="#2e2e2e" stroke-width="0.96" fill="none"/>
<circle cx="205.7" cy="95.8" r="6.4" stroke="#2e2e2e" stroke-width="1.08" fill="none"/>
<path d="M228.7,88.4 L235.28,92.2 L235.28,99.8 L228.7,103.6 L222.12,99.8 L222.12,92.2Z" stroke="#2e2e2e" stroke-width="1.2" fill="none"/>
<path d="M228.7,89.5 L234.33,92.75 L234.33,99.25 L228.7,102.5 L223.07,99.25 L223.07,92.75Z" stroke="#2e2e2e" stroke-width="0.72" fill="none"/>
<path d="M241.8,108 V82.4 H266 Q270.7,82.4 270.7,87.2 V97.3 H277.2 V116" stroke="#2e2e2e" stroke-width="1.32" fill="none"/>
<line x1="251.5" y1="82.4" x2="251.5" y2="104.5" stroke="#2e2e2e" stroke-width="1.08"/>
<path d="M251.7,104.5 Q252.3,113.4 261,113.6 Q268.8,113.4 270.7,103.5" stroke="#2e2e2e" stroke-width="1.08" fill="none"/>
<circle cx="261" cy="90.7" r="2.9" stroke="#2e2e2e" stroke-width="1.08" fill="none"/>
<circle cx="261" cy="107.6" r="2.9" stroke="#2e2e2e" stroke-width="1.08" fill="none"/>
<path d="M246.6,108 V104 H251.7" stroke="#2e2e2e" stroke-width="0.84" fill="none"/>
<path d="M270.7,98.2 H275.8 V103.4 H270.7" stroke="#2e2e2e" stroke-width="0.84" fill="none"/>
<path d="M241.8,108 H244.4" stroke="#2e2e2e" stroke-width="1.32" fill="none"/>
<path d="M244.4,110.3 H255" stroke="#2e2e2e" stroke-width="0.72" fill="none"/>
</g>
<path d="M241.8,88.7 H244.8 V116.6" stroke="#2e2e2e" stroke-width="1.32" fill="none"/>
<line x1="277.5" y1="80" x2="277.5" y2="116" stroke="#2e2e2e" stroke-width="1.2"/>
<path d="M244.8,96.2 H277.2 M244.8,109 H277.2" stroke="#2e2e2e" stroke-width="0.84" fill="none"/>
<line x1="248.5" y1="96.2" x2="248.5" y2="109" stroke="#2e2e2e" stroke-width="0.84"/>
<line x1="274.5" y1="96.2" x2="274.5" y2="109" stroke="#2e2e2e" stroke-width="0.84"/>
<circle cx="257.9" cy="102.6" r="4.4" stroke="#2e2e2e" stroke-width="1.08" fill="none"/>
<circle cx="257.9" cy="102.6" r="2.3" stroke="#2e2e2e" stroke-width="0.96" fill="none"/>
<line x1="252" y1="102.5" x2="263.6" y2="102.5" stroke="#2e2e2e" stroke-width="0.6"/>
<line x1="257.5" y1="97" x2="257.5" y2="108.4" stroke="#2e2e2e" stroke-width="0.6"/>
<path d="M244.8,116.6 H244.4 V188.4 H259.2 V191.6 H264 V197.2 H333 V190.2 H340.5 V193.1 H348.6 V187.9 H352.6 V136.7 H346.9 V118" stroke="#2e2e2e" stroke-width="1.32" fill="none"/>
<path d="M244.4,116 H277.2" stroke="#2e2e2e" stroke-width="1.08" fill="none"/>
<line x1="277.5" y1="116" x2="277.5" y2="197.2" stroke="#2e2e2e" stroke-width="1.08"/>
<path d="M277.2,118 H314.5 L316,116.6 H320 L321,115.6 H327 L328,116.6 L330,118 H332 L333,115.4 H345.4 L346.9,118" stroke="#2e2e2e" stroke-width="1.32" fill="none"/>
<path d="M277.2,120.2 H313 L315.5,118.6 H321.5 L323,120.2 H332" stroke="#2e2e2e" stroke-width="0.84" fill="none"/>
<line x1="334.5" y1="115.4" x2="334.5" y2="118" stroke="#2e2e2e" stroke-width="0.6"/>
<line x1="337.5" y1="115.4" x2="337.5" y2="118" stroke="#2e2e2e" stroke-width="0.6"/>
<line x1="339.5" y1="115.4" x2="339.5" y2="118" stroke="#2e2e2e" stroke-width="0.6"/>
<line x1="342.5" y1="115.4" x2="342.5" y2="118" stroke="#2e2e2e" stroke-width="0.6"/>
<path d="M333,120.2 H346.9" stroke="#2e2e2e" stroke-width="0.84" fill="none"/>
<path d="M340.5,190.2 V138.4 H348.6 V187.9" stroke="#2e2e2e" stroke-width="1.08" fill="none"/>
<line x1="346.5" y1="136.7" x2="346.5" y2="193.1" stroke="#2e2e2e" stroke-width="0.84"/>
<line x1="340.5" y1="159.5" x2="348.6" y2="159.5" stroke="#2e2e2e" stroke-width="0.72"/>
<line x1="340.5" y1="166.5" x2="348.6" y2="166.5" stroke="#2e2e2e" stroke-width="0.72"/>
<path d="M352.6,155.8 H378 V168.3 H352.6" stroke="#2e2e2e" stroke-width="1.2" fill="none"/>
<line x1="357" y1="155.5" x2="377.4" y2="155.5" stroke="#2e2e2e" stroke-width="2.04"/>
<line x1="355" y1="162.5" x2="381" y2="162.5" stroke="#2e2e2e" stroke-width="0.72" stroke-dasharray="6 2.5"/>
<path d="M264,130 H288 V137.2 H332.8 V197.2" stroke="#2e2e2e" stroke-width="0.96" fill="none"/>
<line x1="288" y1="141.5" x2="332.8" y2="141.5" stroke="#2e2e2e" stroke-width="0.84"/>
<path d="M256.7,116 V139" stroke="#2e2e2e" stroke-width="0.84" fill="none"/>
<rect x="259.2" y="131.6" width="4.8" height="8.8" stroke="#2e2e2e" stroke-width="0.96" fill="none"/>
<line x1="264.5" y1="118" x2="264.5" y2="131.6" stroke="#2e2e2e" stroke-width="0.72"/>
<path d="M255.5,142.8 H270.5 Q274.4,142.8 274.4,146.8 V178 Q274.4,182 270.5,182 H255.5 Q248.8,182 248.8,175 V150 Q248.8,142.8 255.5,142.8Z" stroke="#2e2e2e" stroke-width="1.08" fill="none"/>
<circle cx="255.3" cy="149.3" r="2.2" stroke="#2e2e2e" stroke-width="1.08" fill="none"/>
<circle cx="255.3" cy="149.3" r="1" stroke="#2e2e2e" stroke-width="0.6" fill="#666"/>
<line x1="255.5" y1="145.3" x2="255.5" y2="153.8" stroke="#2e2e2e" stroke-width="0.6"/>
<circle cx="255.3" cy="175.6" r="2.2" stroke="#2e2e2e" stroke-width="1.08" fill="none"/>
<circle cx="255.3" cy="175.6" r="1" stroke="#2e2e2e" stroke-width="0.6" fill="#666"/>
<line x1="255.5" y1="171.6" x2="255.5" y2="180.1" stroke="#2e2e2e" stroke-width="0.6"/>
<circle cx="268.5" cy="149.3" r="2.2" stroke="#2e2e2e" stroke-width="1.08" fill="none"/>
<circle cx="268.5" cy="149.3" r="1" stroke="#2e2e2e" stroke-width="0.6" fill="#666"/>
<line x1="268.5" y1="145.3" x2="268.5" y2="153.8" stroke="#2e2e2e" stroke-width="0.6"/>
<circle cx="268.5" cy="175.6" r="2.2" stroke="#2e2e2e" stroke-width="1.08" fill="none"/>
<circle cx="268.5" cy="175.6" r="1" stroke="#2e2e2e" stroke-width="0.6" fill="#666"/>
<line x1="268.5" y1="171.6" x2="268.5" y2="180.1" stroke="#2e2e2e" stroke-width="0.6"/>
<circle cx="262" cy="162.4" r="6.7" stroke="#2e2e2e" stroke-width="1.08" fill="none"/>
<circle cx="311.5" cy="161.5" r="15.3" stroke="#2e2e2e" stroke-width="1.2" fill="none"/>
<circle cx="317.3" cy="150.8" r="1.9" stroke="#2e2e2e" stroke-width="0.96" fill="none"/>
<circle cx="317.3" cy="150.8" r="0.9" stroke="#2e2e2e" stroke-width="0.6" fill="#666"/>
<circle cx="299.6" cy="161.5" r="1.9" stroke="#2e2e2e" stroke-width="0.96" fill="none"/>
<circle cx="299.6" cy="161.5" r="0.9" stroke="#2e2e2e" stroke-width="0.6" fill="#666"/>
<circle cx="317.3" cy="172" r="1.9" stroke="#2e2e2e" stroke-width="0.96" fill="none"/>
<circle cx="317.3" cy="172" r="0.9" stroke="#2e2e2e" stroke-width="0.6" fill="#666"/>
<line x1="311.5" y1="146.5" x2="311.5" y2="176.5" stroke="#2e2e2e" stroke-width="0.84"/>
<line x1="297" y1="161.5" x2="326.5" y2="161.5" stroke="#2e2e2e" stroke-width="0.84"/>
<rect x="313.5" y="160.8" width="6.5" height="1.8" stroke="#2e2e2e" stroke-width="0.6" fill="none"/>
<path d="M288.8,197.2 V183.6 H332.8" stroke="#2e2e2e" stroke-width="0.96" fill="none"/>
<line x1="238" y1="162.5" x2="358" y2="162.5" stroke="#2e2e2e" stroke-width="0.72" stroke-dasharray="12 3 3 3"/>
<path d="M244.4,127.5 H232 V135.5 H244.4" stroke="#2e2e2e" stroke-width="1.2" fill="none"/>
<line x1="211" y1="131.5" x2="249" y2="131.5" stroke="#2e2e2e" stroke-width="0.72" stroke-dasharray="7 3"/>
</g>
<g transform="translate(0 295)">
<g transform="translate(0 -19.4)">
<path d="M519.3,82.6 H578.6 L580.2,84.2 V115.6 M517.7,115.6 V84.2 L519.3,82.6" stroke="#2e2e2e" stroke-width="1.32" fill="none"/>
<path d="M517.7,88.5 H510.5 Q508.3,88.5 508.3,90.7 V100.9 Q508.3,103.1 510.5,103.1 H517.7" stroke="#2e2e2e" stroke-width="1.2" fill="none"/>
<line x1="510.5" y1="89" x2="510.5" y2="102.6" stroke="#2e2e2e" stroke-width="0.72"/>
<line x1="513.5" y1="88.5" x2="513.5" y2="103.1" stroke="#2e2e2e" stroke-width="0.72"/>
<path d="M517.7,87 H523.6 V105.3 H517.7" stroke="#2e2e2e" stroke-width="0.84" fill="none"/>
<line x1="520.5" y1="88.5" x2="520.5" y2="93.5" stroke="#2e2e2e" stroke-width="0.72"/>
<line x1="521.5" y1="88.5" x2="521.5" y2="93.5" stroke="#2e2e2e" stroke-width="0.72"/>
<line x1="578.5" y1="85" x2="578.5" y2="114" stroke="#2e2e2e" stroke-width="0.84"/>
<path d="M580.2,88.5 H586.6 Q587.5,88.5 587.5,89.4 V92 Q587.5,92.9 586.6,92.9 H580.2" stroke="#2e2e2e" stroke-width="1.08" fill="none"/>
<line x1="583.5" y1="88.5" x2="583.5" y2="92.9" stroke="#2e2e2e" stroke-width="0.72"/>
<path d="M580.2,105.3 H586.6 Q587.5,105.3 587.5,106.2 V108.8 Q587.5,109.7 586.6,109.7 H580.2" stroke="#2e2e2e" stroke-width="1.08" fill="none"/>
<line x1="583.5" y1="105.3" x2="583.5" y2="109.7" stroke="#2e2e2e" stroke-width="0.72"/>
<path d="M523.6,105.3 H527.8 V98 H539.9 V103 H543 V115.6" stroke="#2e2e2e" stroke-width="0.96" fill="none"/>
<path d="M543,103.2 H551 V115.6 M545.4,103.2 V101.8 H548.8 V103.2" stroke="#2e2e2e" stroke-width="0.96" fill="none"/>
</g>
<path d="M517.7,96.2 H580.2" stroke="#2e2e2e" stroke-width="1.2" fill="none"/>
<path d="M519,108.4 V116 M550.3,96.2 V116" stroke="#2e2e2e" stroke-width="1.2" fill="none"/>
<path d="M519,96.2 H514.4 Q513,96.2 513,97.6 V107 Q513,108.4 514.4,108.4 H519" stroke="#2e2e2e" stroke-width="1.08" fill="none"/>
<line x1="519.5" y1="96.2" x2="519.5" y2="108.4" stroke="#2e2e2e" stroke-width="0.72"/>
<line x1="547.5" y1="96.2" x2="547.5" y2="116" stroke="#2e2e2e" stroke-width="0.72"/>
<path d="M511.7,115.6 H573.9" stroke="#2e2e2e" stroke-width="1.2" fill="none"/>
<path d="M511.7,115.6 V130.3 M573.9,115.6 V130.3" stroke="#2e2e2e" stroke-width="1.2" fill="none"/>
<path d="M511.7,130.3 H508 Q504.7,130.3 504.7,133.6 V191 Q504.7,195.6 509.5,195.9 L542.1,197.2 L574.7,195.9 Q579.5,195.6 579.5,191 V133.6 Q579.5,130.3 576.2,130.3 H573.9" stroke="#2e2e2e" stroke-width="1.32" fill="none"/>
<path d="M542.1,116.7 H537.2 V118.2 C529.5,120.6 526.2,128.5 524.5,136" stroke="#2e2e2e" stroke-width="1.08" fill="none"/>
<path d="M537.2,118.2 H531.4 V121 H532.8" stroke="#2e2e2e" stroke-width="0.84" fill="none"/>
<line x1="504.7" y1="140.4" x2="524.5" y2="135" stroke="#2e2e2e" stroke-width="0.84"/>
<line x1="504.7" y1="147" x2="520.3" y2="139.2" stroke="#2e2e2e" stroke-width="0.84"/>
<path d="M504.7,146.4 H501.8 L500.6,148 H498.6 V175 H500.6 L501.8,176.5 H504.7" stroke="#2e2e2e" stroke-width="1.08" fill="none"/>
<line x1="501.5" y1="146.4" x2="501.5" y2="176.5" stroke="#2e2e2e" stroke-width="0.72"/>
<path d="M498.6,147.4 H496.6 Q495.6,147.4 495.6,148.4 V151.8 Q495.6,152.8 496.6,152.8 H498.6" stroke="#2e2e2e" stroke-width="1.08" fill="none"/>
<path d="M498.6,159.2 H496.6 Q495.6,159.2 495.6,160.2 V163.2 Q495.6,164.2 496.6,164.2 H498.6" stroke="#2e2e2e" stroke-width="1.08" fill="none"/>
<path d="M498.6,170.2 H496.6 Q495.6,170.2 495.6,171.2 V174.6 Q495.6,175.6 496.6,175.6 H498.6" stroke="#2e2e2e" stroke-width="1.08" fill="none"/>
<path d="M501,159.2 H505.2 A3.5,3.5 0 0 1 505.2,166.2 H501" stroke="#2e2e2e" stroke-width="1.08" fill="none"/>
<line x1="503.5" y1="159.2" x2="503.5" y2="166.2" stroke="#2e2e2e" stroke-width="0.6"/>
<line x1="505.5" y1="159.2" x2="505.5" y2="166.2" stroke="#2e2e2e" stroke-width="0.6"/>
<path d="M542.1,116.7 H547 V118.2 C554.7,120.6 558,128.5 559.7,136" stroke="#2e2e2e" stroke-width="1.08" fill="none"/>
<path d="M547,118.2 H552.8 V121 H551.4" stroke="#2e2e2e" stroke-width="0.84" fill="none"/>
<line x1="579.5" y1="140.4" x2="559.7" y2="135" stroke="#2e2e2e" stroke-width="0.84"/>
<line x1="579.5" y1="147" x2="563.9" y2="139.2" stroke="#2e2e2e" stroke-width="0.84"/>
<path d="M579.5,146.4 H582.4 L583.6,148 H585.6 V175 H583.6 L582.4,176.5 H579.5" stroke="#2e2e2e" stroke-width="1.08" fill="none"/>
<line x1="582.5" y1="146.4" x2="582.5" y2="176.5" stroke="#2e2e2e" stroke-width="0.72"/>
<path d="M585.6,147.4 H587.6 Q588.6,147.4 588.6,148.4 V151.8 Q588.6,152.8 587.6,152.8 H585.6" stroke="#2e2e2e" stroke-width="1.08" fill="none"/>
<path d="M585.6,159.2 H587.6 Q588.6,159.2 588.6,160.2 V163.2 Q588.6,164.2 587.6,164.2 H585.6" stroke="#2e2e2e" stroke-width="1.08" fill="none"/>
<path d="M585.6,170.2 H587.6 Q588.6,170.2 588.6,171.2 V174.6 Q588.6,175.6 587.6,175.6 H585.6" stroke="#2e2e2e" stroke-width="1.08" fill="none"/>
<path d="M583.2,159.2 H579 A3.5,3.5 0 0 0 579,166.2 H583.2" stroke="#2e2e2e" stroke-width="1.08" fill="none"/>
<line x1="581.5" y1="159.2" x2="581.5" y2="166.2" stroke="#2e2e2e" stroke-width="0.6"/>
<line x1="579.5" y1="159.2" x2="579.5" y2="166.2" stroke="#2e2e2e" stroke-width="0.6"/>
<path d="M504.7,147.2 Q542.1,120.5 579.5,147.2" stroke="#2e2e2e" stroke-width="0.96" fill="none"/>
<path d="M504.7,178.5 Q542.1,205 579.5,178.5" stroke="#2e2e2e" stroke-width="0.96" fill="none"/>
<path d="M509,185 Q542.1,203.8 575.2,185" stroke="#2e2e2e" stroke-width="0.84" fill="none"/>
<circle cx="542.1" cy="162.5" r="26.1" stroke="#2e2e2e" stroke-width="1.08" fill="none"/>
<circle cx="542.1" cy="162.5" r="11.7" stroke="#2e2e2e" stroke-width="1.08" fill="none"/>
<circle cx="542.1" cy="162.5" r="5.6" stroke="#2e2e2e" stroke-width="1.2" fill="none"/>
<path d="M540.8,157.1 V155.7 H543.4 V157.1" stroke="#2e2e2e" stroke-width="0.84" fill="none"/>
<line x1="542.5" y1="114" x2="542.5" y2="200.5" stroke="#2e2e2e" stroke-width="0.72" stroke-dasharray="10 2.5 3 2.5"/>
<line x1="485" y1="162.5" x2="600" y2="162.5" stroke="#2e2e2e" stroke-width="0.72" stroke-dasharray="10 3"/>
</g>
<g transform="translate(0 583.5)">
<path d="M60.2,84.3 L61.8,82.4 H121.5 L122.3,83.5 V88.7 H130.5 Q131.8,88.7 131.8,90 V101.4 Q131.8,102.7 130.5,102.7 H122.3 V108.2" stroke="#2e2e2e" stroke-width="1.2" fill="none"/>
<path d="M60.2,84.3 V106 H62.6 V115.3" stroke="#2e2e2e" stroke-width="1.2" fill="none"/>
<path d="M60.2,88.3 H55.7 V89 H53 V94 H55.7 V94.7" stroke="#2e2e2e" stroke-width="1.08" fill="none"/>
<path d="M55.7,94.7 V105 M60.2,104.8 H55.7 V105.4 H53 V109.2 H58 V109.6 H62.6" stroke="#2e2e2e" stroke-width="1.08" fill="none"/>
<line x1="57.5" y1="88.3" x2="57.5" y2="105" stroke="#2e2e2e" stroke-width="0.72"/>
<path d="M66,84.3 V108.2 H90.7" stroke="#2e2e2e" stroke-width="0.96" fill="none"/>
<path d="M62.6,108.2 H66 M66,111 H90.7 V115.3" stroke="#2e2e2e" stroke-width="0.84" fill="none"/>
<path d="M90.7,89.3 H79.5 Q78.4,89.3 78.4,90.4 V100.9 Q78.4,102 79.5,102 H90.7" stroke="#2e2e2e" stroke-width="1.08" fill="none"/>
<line x1="81.5" y1="90" x2="81.5" y2="101.3" stroke="#2e2e2e" stroke-width="0.72"/>
<line x1="83.5" y1="90" x2="83.5" y2="101.3" stroke="#2e2e2e" stroke-width="0.72"/>
<path d="M90.7,82.4 V108.2 H122.3" stroke="#2e2e2e" stroke-width="1.08" fill="none"/>
<line x1="92.7" y1="84" x2="120.3" y2="84" stroke="#2e2e2e" stroke-width="0.72"/>
<line x1="92.7" y1="106" x2="120.3" y2="106" stroke="#2e2e2e" stroke-width="0.72"/>
<circle cx="96.7" cy="88.3" r="2" stroke="#2e2e2e" stroke-width="1.08" fill="none"/>
<circle cx="96.7" cy="88.3" r="1" stroke="#2e2e2e" stroke-width="0.72" fill="#777"/>
<circle cx="96.7" cy="103.7" r="2" stroke="#2e2e2e" stroke-width="1.08" fill="none"/>
<circle cx="96.7" cy="103.7" r="1" stroke="#2e2e2e" stroke-width="0.72" fill="#777"/>
<circle cx="116.3" cy="88.3" r="2" stroke="#2e2e2e" stroke-width="1.08" fill="none"/>
<circle cx="116.3" cy="88.3" r="1" stroke="#2e2e2e" stroke-width="0.72" fill="#777"/>
<circle cx="116.3" cy="103.7" r="2" stroke="#2e2e2e" stroke-width="1.08" fill="none"/>
<circle cx="116.3" cy="103.7" r="1" stroke="#2e2e2e" stroke-width="0.72" fill="#777"/>
<path d="M101.2,89.6 L105.6,86.7 H111 L112.6,88.3 L108.4,91.3 H102.8Z" stroke="#2e2e2e" stroke-width="0.84" fill="#444"/>
<path d="M104.6,89.1 L106.4,87.8 H109.6 L108,89.1Z" stroke="#fff" stroke-width="0.36" fill="#fff"/>
<rect x="95.4" y="94.9" width="21.4" height="4.2" stroke="#2e2e2e" stroke-width="0.36" fill="#555"/>
<line x1="97.5" y1="95.6" x2="97.5" y2="98.6" stroke="#ddd" stroke-width="0.84"/>
<line x1="100.5" y1="95.6" x2="100.5" y2="98.6" stroke="#ddd" stroke-width="0.84"/>
<line x1="103.5" y1="95.6" x2="103.5" y2="98.6" stroke="#ddd" stroke-width="0.84"/>
<line x1="106.5" y1="95.6" x2="106.5" y2="98.6" stroke="#ddd" stroke-width="0.84"/>
<line x1="109.5" y1="95.6" x2="109.5" y2="98.6" stroke="#ddd" stroke-width="0.84"/>
<line x1="112.5" y1="95.6" x2="112.5" y2="98.6" stroke="#ddd" stroke-width="0.84"/>
<line x1="115.5" y1="95.6" x2="115.5" y2="98.6" stroke="#ddd" stroke-width="0.84"/>
<path d="M62.6,115.3 H129.3" stroke="#2e2e2e" stroke-width="1.2" fill="none"/>
<path d="M122.3,108.2 V111 H125 V115.3" stroke="#2e2e2e" stroke-width="0.84" fill="none"/>
<path d="M68,115.3 V129.7 M129.3,115.3 V129.7" stroke="#2e2e2e" stroke-width="1.2" fill="none"/>
<path d="M80,115.3 V137.5 Q80,142.4 75,142.4 H63.8" stroke="#2e2e2e" stroke-width="0.84" fill="none"/>
<path d="M118,117 V137.5 Q118,142.4 123,142.4 H133.2" stroke="#2e2e2e" stroke-width="0.84" fill="none"/>
<path d="M118,125.7 Q118,123.3 120.2,123.3 H123" stroke="#2e2e2e" stroke-width="0.72" fill="none"/>
<path d="M68,129.7 A6.4,6.4 0 0 0 62.7,137.2 L61.3,139.8 V189.5 Q61.3,195.6 67.5,196 L98.5,197.5 L129.5,196 Q135.7,195.6 135.7,189.5 V139.8 L134.3,137.2 A6.4,6.4 0 0 0 129.3,129.7" stroke="#2e2e2e" stroke-width="1.2" fill="none"/>
<circle cx="69" cy="135.8" r="4.8" stroke="#2e2e2e" stroke-width="1.2" fill="none"/>
<circle cx="69" cy="135.8" r="2.8" stroke="#2e2e2e" stroke-width="1.08" fill="none"/>
<circle cx="69" cy="187" r="5.3" stroke="#2e2e2e" stroke-width="1.2" fill="none"/>
<circle cx="69" cy="187" r="2.8" stroke="#2e2e2e" stroke-width="1.08" fill="none"/>
<circle cx="128" cy="135.8" r="4.8" stroke="#2e2e2e" stroke-width="1.2" fill="none"/>
<circle cx="128" cy="135.8" r="2.8" stroke="#2e2e2e" stroke-width="1.08" fill="none"/>
<circle cx="128" cy="187" r="5.3" stroke="#2e2e2e" stroke-width="1.2" fill="none"/>
<circle cx="128" cy="187" r="2.8" stroke="#2e2e2e" stroke-width="1.08" fill="none"/>
<path d="M66.7,148.5 Q66.7,144.3 71,144.3 H126.3 Q130.7,144.3 130.7,148.5 V177.5 Q130.7,181.8 126,181.8 L116,181.9 C107,182.3 106.5,188 98.6,188 C90.5,188 90,182.3 81.5,181.9 L71,181.8 Q66.7,181.8 66.7,177.5Z" stroke="#2e2e2e" stroke-width="0.96" fill="none"/>
<path d="M61.3,145.3 H56.4 Q55.4,145.3 55.4,146.3 V147.6 V147.6 H52.8 Q52,147.6 52,148.4 V152.2 Q52,153 52.8,153 H55.4 V158 H52.8 Q52,158 52,158.8 V162.2 Q52,163 52.8,163 H55.4 V168.5 H52.8 Q52,168.5 52,169.3 V172.7 Q52,173.5 52.8,173.5 H55.4 V175.8 Q55.4,176.8 56.4,176.8 H61.3" stroke="#2e2e2e" stroke-width="1.2" fill="none"/>
<path d="M60.5,145.3 V176.8 M58,145.3 V176.8" stroke="#777" stroke-width="0.6" fill="none"/>
<path d="M135.7,145.3 H140.6 Q141.6,145.3 141.6,146.3 V147.6 V147.6 H144.2 Q145,147.6 145,148.4 V152.2 Q145,153 144.2,153 H141.6 V158 H144.2 Q145,158 145,158.8 V162.2 Q145,163 144.2,163 H141.6 V168.5 H144.2 Q145,168.5 145,169.3 V172.7 Q145,173.5 144.2,173.5 H141.6 V175.8 Q141.6,176.8 140.6,176.8 H135.7" stroke="#2e2e2e" stroke-width="1.2" fill="none"/>
<path d="M136.5,145.3 V176.8 M139,145.3 V176.8" stroke="#777" stroke-width="0.6" fill="none"/>
<path d="M82,116 H115 Q116.3,116 116.3,117.3 V144.2 Q116.3,146.7 113.8,146.7 H83 Q80.5,146.7 80.5,144.2 V117.5 Q80.5,116 82,116Z" stroke="#2e2e2e" stroke-width="1.08" fill="#fff"/>
<circle cx="85.2" cy="121.3" r="3.4" stroke="#2e2e2e" stroke-width="0.72" fill="none"/>
<circle cx="85.2" cy="121.3" r="1.8" stroke="#2e2e2e" stroke-width="0.84" fill="none"/>
<circle cx="85.2" cy="141.3" r="3.4" stroke="#2e2e2e" stroke-width="0.72" fill="none"/>
<circle cx="85.2" cy="141.3" r="1.8" stroke="#2e2e2e" stroke-width="0.84" fill="none"/>
<circle cx="111.2" cy="121.3" r="3.4" stroke="#2e2e2e" stroke-width="0.72" fill="none"/>
<circle cx="111.2" cy="121.3" r="1.8" stroke="#2e2e2e" stroke-width="0.84" fill="none"/>
<circle cx="111.2" cy="141.3" r="3.4" stroke="#2e2e2e" stroke-width="0.72" fill="none"/>
<circle cx="111.2" cy="141.3" r="1.8" stroke="#2e2e2e" stroke-width="0.84" fill="none"/>
<circle cx="98.5" cy="131.5" r="11" stroke="#2e2e2e" stroke-width="1.56" fill="none"/>
<circle cx="98.5" cy="131.5" r="9" stroke="#2e2e2e" stroke-width="0.72" fill="none"/>
<circle cx="98.5" cy="131.5" r="5.9" stroke="#2e2e2e" stroke-width="1.8" fill="none"/>
<circle cx="98.5" cy="131.5" r="3.3" stroke="#2e2e2e" stroke-width="0.96" fill="none"/>
<circle cx="98.5" cy="131.5" r="1.2" stroke="#2e2e2e" stroke-width="0.6" fill="#555"/>
<line x1="98.5" y1="79" x2="98.5" y2="200.5" stroke="#2e2e2e" stroke-width="0.72" stroke-dasharray="9 2.5 3 2.5"/>
<line x1="50" y1="161" x2="148" y2="161" stroke="#2e2e2e" stroke-width="0.72" stroke-dasharray="9 3"/>
</g>
<g transform="translate(0 583.5)">
<path d="M241.8,84 H197.4 V108 H241.8" stroke="#2e2e2e" stroke-width="1.32" fill="none"/>
<line x1="216.5" y1="84" x2="216.5" y2="108" stroke="#2e2e2e" stroke-width="1.08"/>
<line x1="197.4" y1="86" x2="216.3" y2="86" stroke="#2e2e2e" stroke-width="0.6"/>
<line x1="197.4" y1="106" x2="216.3" y2="106" stroke="#2e2e2e" stroke-width="0.6"/>
<rect x="198.7" y="88.3" width="14.1" height="15" rx="2.2" stroke="#2e2e2e" stroke-width="0.96" fill="none"/>
<circle cx="205.7" cy="95.8" r="6.4" stroke="#2e2e2e" stroke-width="1.08" fill="none"/>
<path d="M228.7,88.4 L235.28,92.2 L235.28,99.8 L228.7,103.6 L222.12,99.8 L222.12,92.2Z" stroke="#2e2e2e" stroke-width="1.2" fill="none"/>
<path d="M228.7,89.5 L234.33,92.75 L234.33,99.25 L228.7,102.5 L223.07,99.25 L223.07,92.75Z" stroke="#2e2e2e" stroke-width="0.72" fill="none"/>
<path d="M241.8,108 V82.4 H266 Q270.7,82.4 270.7,87.2 V97.3 H277.2 V116" stroke="#2e2e2e" stroke-width="1.32" fill="none"/>
<line x1="251.5" y1="82.4" x2="251.5" y2="104.5" stroke="#2e2e2e" stroke-width="1.08"/>
<path d="M251.7,104.5 Q252.3,113.4 261,113.6 Q268.8,113.4 270.7,103.5" stroke="#2e2e2e" stroke-width="1.08" fill="none"/>
<circle cx="261" cy="90.7" r="2.9" stroke="#2e2e2e" stroke-width="1.08" fill="none"/>
<circle cx="261" cy="107.6" r="2.9" stroke="#2e2e2e" stroke-width="1.08" fill="none"/>
<path d="M246.6,108 V104 H251.7" stroke="#2e2e2e" stroke-width="0.84" fill="none"/>
<path d="M270.7,98.2 H275.8 V103.4 H270.7" stroke="#2e2e2e" stroke-width="0.84" fill="none"/>
<path d="M241.8,108 H244.4" stroke="#2e2e2e" stroke-width="1.32" fill="none"/>
<path d="M244.4,110.3 H255" stroke="#2e2e2e" stroke-width="0.72" fill="none"/>
<path d="M244.4,108 V188.4 H259.2 V191.6 H264 V197.2 H333 V190.2 H340.5 V193.1 H348.6 V187.9 H352.6 V136.7 H346.9 V118" stroke="#2e2e2e" stroke-width="1.32" fill="none"/>
<path d="M244.4,116 H277.2" stroke="#2e2e2e" stroke-width="1.08" fill="none"/>
<line x1="277.5" y1="116" x2="277.5" y2="197.2" stroke="#2e2e2e" stroke-width="1.08"/>
<path d="M277.2,118 H314.5 L316,116.6 H320 L321,115.6 H327 L328,116.6 L330,118 H332 L333,115.4 H345.4 L346.9,118" stroke="#2e2e2e" stroke-width="1.32" fill="none"/>
<path d="M277.2,120.2 H313 L315.5,118.6 H321.5 L323,120.2 H332" stroke="#2e2e2e" stroke-width="0.84" fill="none"/>
<line x1="334.5" y1="115.4" x2="334.5" y2="118" stroke="#2e2e2e" stroke-width="0.6"/>
<line x1="337.5" y1="115.4" x2="337.5" y2="118" stroke="#2e2e2e" stroke-width="0.6"/>
<line x1="339.5" y1="115.4" x2="339.5" y2="118" stroke="#2e2e2e" stroke-width="0.6"/>
<line x1="342.5" y1="115.4" x2="342.5" y2="118" stroke="#2e2e2e" stroke-width="0.6"/>
<path d="M333,120.2 H346.9" stroke="#2e2e2e" stroke-width="0.84" fill="none"/>
<path d="M340.5,190.2 V138.4 H348.6 V187.9" stroke="#2e2e2e" stroke-width="1.08" fill="none"/>
<line x1="346.5" y1="136.7" x2="346.5" y2="193.1" stroke="#2e2e2e" stroke-width="0.84"/>
<line x1="340.5" y1="160" x2="348.6" y2="160" stroke="#2e2e2e" stroke-width="0.72"/>
<line x1="340.5" y1="166" x2="348.6" y2="166" stroke="#2e2e2e" stroke-width="0.72"/>
<path d="M352.6,155.8 H378 V168.3 H352.6" stroke="#2e2e2e" stroke-width="1.2" fill="none"/>
<line x1="357" y1="156" x2="377.4" y2="156" stroke="#2e2e2e" stroke-width="2.04"/>
<line x1="355" y1="162" x2="381" y2="162" stroke="#2e2e2e" stroke-width="0.72" stroke-dasharray="6 2.5"/>
<path d="M264,130 H288 V137.2 H332.8 V197.2" stroke="#2e2e2e" stroke-width="0.96" fill="none"/>
<line x1="288" y1="141" x2="332.8" y2="141" stroke="#2e2e2e" stroke-width="0.84"/>
<path d="M256.7,116 V139" stroke="#2e2e2e" stroke-width="0.84" fill="none"/>
<rect x="259.2" y="131.6" width="4.8" height="8.8" stroke="#2e2e2e" stroke-width="0.96" fill="none"/>
<line x1="264.5" y1="118" x2="264.5" y2="131.6" stroke="#2e2e2e" stroke-width="0.72"/>
<path d="M255.5,142.8 H270.5 Q274.4,142.8 274.4,146.8 V178 Q274.4,182 270.5,182 H255.5 Q248.8,182 248.8,175 V150 Q248.8,142.8 255.5,142.8Z" stroke="#2e2e2e" stroke-width="1.08" fill="none"/>
<circle cx="255.3" cy="149.3" r="2.2" stroke="#2e2e2e" stroke-width="1.08" fill="none"/>
<circle cx="255.3" cy="149.3" r="1" stroke="#2e2e2e" stroke-width="0.6" fill="#666"/>
<line x1="255.5" y1="145.3" x2="255.5" y2="153.8" stroke="#2e2e2e" stroke-width="0.6"/>
<circle cx="255.3" cy="175.6" r="2.2" stroke="#2e2e2e" stroke-width="1.08" fill="none"/>
<circle cx="255.3" cy="175.6" r="1" stroke="#2e2e2e" stroke-width="0.6" fill="#666"/>
<line x1="255.5" y1="171.6" x2="255.5" y2="180.1" stroke="#2e2e2e" stroke-width="0.6"/>
<circle cx="268.5" cy="149.3" r="2.2" stroke="#2e2e2e" stroke-width="1.08" fill="none"/>
<circle cx="268.5" cy="149.3" r="1" stroke="#2e2e2e" stroke-width="0.6" fill="#666"/>
<line x1="268.5" y1="145.3" x2="268.5" y2="153.8" stroke="#2e2e2e" stroke-width="0.6"/>
<circle cx="268.5" cy="175.6" r="2.2" stroke="#2e2e2e" stroke-width="1.08" fill="none"/>
<circle cx="268.5" cy="175.6" r="1" stroke="#2e2e2e" stroke-width="0.6" fill="#666"/>
<line x1="268.5" y1="171.6" x2="268.5" y2="180.1" stroke="#2e2e2e" stroke-width="0.6"/>
<circle cx="262" cy="162.4" r="6.7" stroke="#2e2e2e" stroke-width="1.08" fill="none"/>
<circle cx="311.5" cy="161.5" r="15.3" stroke="#2e2e2e" stroke-width="1.2" fill="none"/>
<circle cx="317.3" cy="150.8" r="1.9" stroke="#2e2e2e" stroke-width="0.96" fill="none"/>
<circle cx="317.3" cy="150.8" r="0.9" stroke="#2e2e2e" stroke-width="0.6" fill="#666"/>
<circle cx="299.6" cy="161.5" r="1.9" stroke="#2e2e2e" stroke-width="0.96" fill="none"/>
<circle cx="299.6" cy="161.5" r="0.9" stroke="#2e2e2e" stroke-width="0.6" fill="#666"/>
<circle cx="317.3" cy="172" r="1.9" stroke="#2e2e2e" stroke-width="0.96" fill="none"/>
<circle cx="317.3" cy="172" r="0.9" stroke="#2e2e2e" stroke-width="0.6" fill="#666"/>
<line x1="311.5" y1="146.5" x2="311.5" y2="176.5" stroke="#2e2e2e" stroke-width="0.84"/>
<line x1="297" y1="162" x2="326.5" y2="162" stroke="#2e2e2e" stroke-width="0.84"/>
<rect x="313.5" y="160.8" width="6.5" height="1.8" stroke="#2e2e2e" stroke-width="0.6" fill="none"/>
<path d="M288.8,197.2 V183.6 H332.8" stroke="#2e2e2e" stroke-width="0.96" fill="none"/>
<line x1="238" y1="162" x2="358" y2="162" stroke="#2e2e2e" stroke-width="0.72" stroke-dasharray="12 3 3 3"/>
<path d="M244.4,118.3 H231 V146 H244.4" stroke="#2e2e2e" stroke-width="1.2" fill="none"/>
<path d="M231,120.8 H219.5 L216,124.3 V140.2 L219.5,143.6 H231" stroke="#2e2e2e" stroke-width="1.2" fill="none"/>
<line x1="224.5" y1="120.8" x2="224.5" y2="143.6" stroke="#2e2e2e" stroke-width="0.84"/>
<path d="M231,123.5 H233.5 V128 H231 M231,137 H233.5 V141.5 H231" stroke="#2e2e2e" stroke-width="0.84" fill="none"/>
<path d="M216,125.7 H208.3 V138.7 H216" stroke="#2e2e2e" stroke-width="1.2" fill="none"/>
<line x1="210.5" y1="125.7" x2="210.5" y2="138.7" stroke="#2e2e2e" stroke-width="0.84"/>
<line x1="213.5" y1="125.7" x2="213.5" y2="138.7" stroke="#2e2e2e" stroke-width="0.84"/>
<path d="M208.3,129.6 H200.3 V134.8 H208.3" stroke="#2e2e2e" stroke-width="1.2" fill="none"/>
<line x1="186" y1="132" x2="250" y2="132" stroke="#2e2e2e" stroke-width="0.72" stroke-dasharray="9 3"/>
</g>
<g transform="translate(0 583.5)">
<path d="M519.3,82.6 H578.6 L580.2,84.2 V115.6 M517.7,115.6 V84.2 L519.3,82.6" stroke="#2e2e2e" stroke-width="1.32" fill="none"/>
<path d="M517.7,88.5 H510.5 Q508.3,88.5 508.3,90.7 V100.9 Q508.3,103.1 510.5,103.1 H517.7" stroke="#2e2e2e" stroke-width="1.2" fill="none"/>
<line x1="510.5" y1="89" x2="510.5" y2="102.6" stroke="#2e2e2e" stroke-width="0.72"/>
<line x1="513.5" y1="88.5" x2="513.5" y2="103.1" stroke="#2e2e2e" stroke-width="0.72"/>
<path d="M517.7,87 H523.6 V105.3 H517.7" stroke="#2e2e2e" stroke-width="0.84" fill="none"/>
<line x1="520.5" y1="88.5" x2="520.5" y2="93.5" stroke="#2e2e2e" stroke-width="0.72"/>
<line x1="521.5" y1="88.5" x2="521.5" y2="93.5" stroke="#2e2e2e" stroke-width="0.72"/>
<line x1="578.5" y1="85" x2="578.5" y2="114" stroke="#2e2e2e" stroke-width="0.84"/>
<path d="M580.2,88.5 H586.6 Q587.5,88.5 587.5,89.4 V92 Q587.5,92.9 586.6,92.9 H580.2" stroke="#2e2e2e" stroke-width="1.08" fill="none"/>
<line x1="583.5" y1="88.5" x2="583.5" y2="92.9" stroke="#2e2e2e" stroke-width="0.72"/>
<path d="M580.2,105.3 H586.6 Q587.5,105.3 587.5,106.2 V108.8 Q587.5,109.7 586.6,109.7 H580.2" stroke="#2e2e2e" stroke-width="1.08" fill="none"/>
<line x1="583.5" y1="105.3" x2="583.5" y2="109.7" stroke="#2e2e2e" stroke-width="0.72"/>
<path d="M523.6,105.3 H527.8 V98 H539.9 V103 H543 V115.6" stroke="#2e2e2e" stroke-width="0.96" fill="none"/>
<path d="M543,103.2 H551 V115.6 M545.4,103.2 V101.8 H548.8 V103.2" stroke="#2e2e2e" stroke-width="0.96" fill="none"/>
<path d="M517.7,115.6 H580.2" stroke="#2e2e2e" stroke-width="1.2" fill="none"/>
<path d="M517.7,115.6 H511.7 M573.9,115.6 H580.2" stroke="#2e2e2e" stroke-width="1.2" fill="none"/>
<path d="M511.7,115.6 V130.3 M573.9,115.6 V130.3" stroke="#2e2e2e" stroke-width="1.2" fill="none"/>
<path d="M511.7,130.3 H508 Q504.7,130.3 504.7,133.6 V191 Q504.7,195.6 509.5,195.9 L542.1,197.2 L574.7,195.9 Q579.5,195.6 579.5,191 V133.6 Q579.5,130.3 576.2,130.3 H573.9" stroke="#2e2e2e" stroke-width="1.32" fill="none"/>
<path d="M542.1,116.7 H537.2 V118.2 C529.5,120.6 526.2,128.5 524.5,136" stroke="#2e2e2e" stroke-width="1.08" fill="none"/>
<path d="M537.2,118.2 H531.4 V121 H532.8" stroke="#2e2e2e" stroke-width="0.84" fill="none"/>
<line x1="504.7" y1="140.4" x2="524.5" y2="135" stroke="#2e2e2e" stroke-width="0.84"/>
<line x1="504.7" y1="147" x2="520.3" y2="139.2" stroke="#2e2e2e" stroke-width="0.84"/>
<path d="M504.7,146.4 H501.8 L500.6,148 H498.6 V175 H500.6 L501.8,176.5 H504.7" stroke="#2e2e2e" stroke-width="1.08" fill="none"/>
<line x1="501.5" y1="146.4" x2="501.5" y2="176.5" stroke="#2e2e2e" stroke-width="0.72"/>
<path d="M498.6,147.4 H496.6 Q495.6,147.4 495.6,148.4 V151.8 Q495.6,152.8 496.6,152.8 H498.6" stroke="#2e2e2e" stroke-width="1.08" fill="none"/>
<path d="M498.6,159.2 H496.6 Q495.6,159.2 495.6,160.2 V163.2 Q495.6,164.2 496.6,164.2 H498.6" stroke="#2e2e2e" stroke-width="1.08" fill="none"/>
<path d="M498.6,170.2 H496.6 Q495.6,170.2 495.6,171.2 V174.6 Q495.6,175.6 496.6,175.6 H498.6" stroke="#2e2e2e" stroke-width="1.08" fill="none"/>
<path d="M501,159.2 H505.2 A3.5,3.5 0 0 1 505.2,166.2 H501" stroke="#2e2e2e" stroke-width="1.08" fill="none"/>
<line x1="503.5" y1="159.2" x2="503.5" y2="166.2" stroke="#2e2e2e" stroke-width="0.6"/>
<line x1="505.5" y1="159.2" x2="505.5" y2="166.2" stroke="#2e2e2e" stroke-width="0.6"/>
<path d="M542.1,116.7 H547 V118.2 C554.7,120.6 558,128.5 559.7,136" stroke="#2e2e2e" stroke-width="1.08" fill="none"/>
<path d="M547,118.2 H552.8 V121 H551.4" stroke="#2e2e2e" stroke-width="0.84" fill="none"/>
<line x1="579.5" y1="140.4" x2="559.7" y2="135" stroke="#2e2e2e" stroke-width="0.84"/>
<line x1="579.5" y1="147" x2="563.9" y2="139.2" stroke="#2e2e2e" stroke-width="0.84"/>
<path d="M579.5,146.4 H582.4 L583.6,148 H585.6 V175 H583.6 L582.4,176.5 H579.5" stroke="#2e2e2e" stroke-width="1.08" fill="none"/>
<line x1="582.5" y1="146.4" x2="582.5" y2="176.5" stroke="#2e2e2e" stroke-width="0.72"/>
<path d="M585.6,147.4 H587.6 Q588.6,147.4 588.6,148.4 V151.8 Q588.6,152.8 587.6,152.8 H585.6" stroke="#2e2e2e" stroke-width="1.08" fill="none"/>
<path d="M585.6,159.2 H587.6 Q588.6,159.2 588.6,160.2 V163.2 Q588.6,164.2 587.6,164.2 H585.6" stroke="#2e2e2e" stroke-width="1.08" fill="none"/>
<path d="M585.6,170.2 H587.6 Q588.6,170.2 588.6,171.2 V174.6 Q588.6,175.6 587.6,175.6 H585.6" stroke="#2e2e2e" stroke-width="1.08" fill="none"/>
<path d="M583.2,159.2 H579 A3.5,3.5 0 0 0 579,166.2 H583.2" stroke="#2e2e2e" stroke-width="1.08" fill="none"/>
<line x1="581.5" y1="159.2" x2="581.5" y2="166.2" stroke="#2e2e2e" stroke-width="0.6"/>
<line x1="579.5" y1="159.2" x2="579.5" y2="166.2" stroke="#2e2e2e" stroke-width="0.6"/>
<path d="M504.7,147.2 Q542.1,120.5 579.5,147.2" stroke="#2e2e2e" stroke-width="0.96" fill="none"/>
<path d="M504.7,178.5 Q542.1,205 579.5,178.5" stroke="#2e2e2e" stroke-width="0.96" fill="none"/>
<path d="M509,185 Q542.1,203.8 575.2,185" stroke="#2e2e2e" stroke-width="0.84" fill="none"/>
<circle cx="542.1" cy="162.5" r="26.1" stroke="#2e2e2e" stroke-width="1.08" fill="none"/>
<circle cx="542.1" cy="162.5" r="11.7" stroke="#2e2e2e" stroke-width="1.08" fill="none"/>
<circle cx="542.1" cy="162.5" r="5.6" stroke="#2e2e2e" stroke-width="1.2" fill="none"/>
<path d="M540.8,157.1 V155.7 H543.4 V157.1" stroke="#2e2e2e" stroke-width="0.84" fill="none"/>
<line x1="542.5" y1="114" x2="542.5" y2="200.5" stroke="#2e2e2e" stroke-width="0.72" stroke-dasharray="10 2.5 3 2.5"/>
<line x1="485" y1="163" x2="600" y2="163" stroke="#2e2e2e" stroke-width="0.72" stroke-dasharray="10 3"/>
</g>
<line x1="159.5" y1="82.4" x2="159.5" y2="197" stroke="#2e2e2e" stroke-width="1.02"/>
<path d="M159.4,82.4 L160.75,90.2 L158.05,90.2Z" fill="#222" stroke="#222" stroke-width="0.3"/>
<path d="M159.4,197 L158.05,189.2 L160.75,189.2Z" fill="#222" stroke="#222" stroke-width="0.3"/>
<text x="157.1" y="136.6" font-size="8.4" text-anchor="middle" transform="rotate(-90 157.1 136.6)" fill="#333" stroke="#333" stroke-width="0.22" letter-spacing="0.35">226</text>
<line x1="124.5" y1="82.5" x2="162.9" y2="82.5" stroke="#2e2e2e" stroke-width="1.02"/>
<line x1="100" y1="197.5" x2="162.9" y2="197.5" stroke="#2e2e2e" stroke-width="1.02"/>
<line x1="52.5" y1="177.5" x2="52.5" y2="226.9" stroke="#2e2e2e" stroke-width="1.02"/>
<line x1="144.5" y1="177.5" x2="144.5" y2="226.9" stroke="#2e2e2e" stroke-width="1.02"/>
<line x1="52.5" y1="223.5" x2="144.8" y2="223.5" stroke="#2e2e2e" stroke-width="1.02"/>
<path d="M52.5,223.4 L60.3,222.05 L60.3,224.75Z" fill="#222" stroke="#222" stroke-width="0.3"/>
<path d="M144.8,223.4 L137,224.75 L137,222.05Z" fill="#222" stroke="#222" stroke-width="0.3"/>
<text x="101" y="221.1" font-size="8.4" text-anchor="middle" fill="#333" stroke="#333" stroke-width="0.22" letter-spacing="0.35">182</text>
<line x1="197.5" y1="68.9" x2="197.5" y2="84" stroke="#2e2e2e" stroke-width="1.02"/>
<line x1="197.4" y1="72.5" x2="348" y2="72.5" stroke="#2e2e2e" stroke-width="1.02"/>
<path d="M197.4,72.4 L205.2,71.05 L205.2,73.75Z" fill="#222" stroke="#222" stroke-width="0.3"/>
<path d="M348,72.4 L340.2,73.75 L340.2,71.05Z" fill="#222" stroke="#222" stroke-width="0.3"/>
<text x="275" y="71.1" font-size="8.4" text-anchor="middle" fill="#333" stroke="#333" stroke-width="0.22" letter-spacing="0.35">297</text>
<line x1="348.5" y1="68.4" x2="348.5" y2="134" stroke="#2e2e2e" stroke-width="1.02"/>
<line x1="377.5" y1="68.4" x2="377.5" y2="155.5" stroke="#2e2e2e" stroke-width="1.02"/>
<line x1="348" y1="72.5" x2="377.4" y2="72.5" stroke="#2e2e2e" stroke-width="1.02"/>
<path d="M348,72.4 L355.8,71.05 L355.8,73.75Z" fill="#222" stroke="#222" stroke-width="0.3"/>
<path d="M377.4,72.4 L369.6,73.75 L369.6,71.05Z" fill="#222" stroke="#222" stroke-width="0.3"/>
<text x="364.2" y="70.2" font-size="8.4" text-anchor="middle" fill="#333" stroke="#333" stroke-width="0.22" letter-spacing="0.35">58.5</text>
<line x1="377.4" y1="72.5" x2="381" y2="72.5" stroke="#2e2e2e" stroke-width="1.02"/>
<line x1="322.5" y1="81" x2="322.5" y2="117.5" stroke="#2e2e2e" stroke-width="1.02"/>
<line x1="322.4" y1="85.5" x2="348" y2="85.5" stroke="#2e2e2e" stroke-width="1.02"/>
<path d="M322.4,85 L330.2,83.65 L330.2,86.35Z" fill="#222" stroke="#222" stroke-width="0.3"/>
<path d="M348,85 L340.2,86.35 L340.2,83.65Z" fill="#222" stroke="#222" stroke-width="0.3"/>
<text x="336.5" y="82.8" font-size="8.4" text-anchor="middle" fill="#333" stroke="#333" stroke-width="0.22" letter-spacing="0.35">51</text>
<line x1="338.5" y1="94.4" x2="338.5" y2="115.5" stroke="#2e2e2e" stroke-width="1.02"/>
<line x1="324.4" y1="97.5" x2="362" y2="97.5" stroke="#2e2e2e" stroke-width="1.02"/>
<path d="M338.4,97.4 L330.6,98.75 L330.6,96.05Z" fill="#222" stroke="#222" stroke-width="0.3"/>
<path d="M348,97.4 L355.8,96.05 L355.8,98.75Z" fill="#222" stroke="#222" stroke-width="0.3"/>
<text x="343" y="95.2" font-size="8.4" text-anchor="middle" fill="#333" stroke="#333" stroke-width="0.22" letter-spacing="0.35">18</text>
<line x1="352.5" y1="106.4" x2="352.5" y2="134" stroke="#2e2e2e" stroke-width="1.02"/>
<line x1="334" y1="109.5" x2="366" y2="109.5" stroke="#2e2e2e" stroke-width="1.02"/>
<path d="M348,109.4 L340.2,110.75 L340.2,108.05Z" fill="#222" stroke="#222" stroke-width="0.3"/>
<path d="M352,109.4 L359.8,108.05 L359.8,110.75Z" fill="#222" stroke="#222" stroke-width="0.3"/>
<line x1="352" y1="109.5" x2="370" y2="109.5" stroke="#2e2e2e" stroke-width="1.02"/>
<text x="365.6" y="107.6" font-size="8.4" text-anchor="middle" fill="#333" stroke="#333" stroke-width="0.22" letter-spacing="0.35">9</text>
<rect x="414" y="63.7" width="6.4" height="6.3" stroke="#2e2e2e" stroke-width="0.96" fill="none"/>
<text x="422" y="69.8" font-size="8.6" textLength="16.8" lengthAdjust="spacing" fill="#333" stroke="#333" stroke-width="0.22">6.35</text>
<text x="441.5" y="66.4" font-size="4.6" textLength="15.5" lengthAdjust="spacing" fill="#333" stroke="#333" stroke-width="0.22">-0.03</text>
<text x="441.5" y="70.4" font-size="4.6" textLength="15.5" lengthAdjust="spacing" fill="#333" stroke="#333" stroke-width="0.22">-0.05</text>
<text x="458.6" y="69.8" font-size="8.6" textLength="13.4" lengthAdjust="spacingAndGlyphs" fill="#333" stroke="#333" stroke-width="0.22">x40</text>
<line x1="412" y1="67.5" x2="393.3" y2="67.5" stroke="#2e2e2e" stroke-width="1.02"/>
<path d="M393.3,67 L368,155.6" stroke="#2e2e2e" stroke-width="1.02" fill="none"/>
<path d="M368,155.6 L368.51,148.88 L371.11,149.62Z" fill="#222" stroke="#222" stroke-width="0.3"/>
<line x1="401.5" y1="82.1" x2="401.5" y2="183" stroke="#2e2e2e" stroke-width="1.02"/>
<path d="M401.2,156 L399.85,148.2 L402.55,148.2Z" fill="#222" stroke="#222" stroke-width="0.3"/>
<path d="M401.2,168 L402.55,175.8 L399.85,175.8Z" fill="#222" stroke="#222" stroke-width="0.3"/>
<g transform="rotate(-90 399.4 127.7)">
<text x="399.4" y="127.7" font-size="8.4" textLength="26" lengthAdjust="spacing" fill="#333" stroke="#333" stroke-width="0.22">Φ22.2</text>
<text x="429.2" y="124.1" font-size="5" fill="#333" stroke="#333" stroke-width="0.22">0</text>
<text x="426.6" y="128.2" font-size="5" textLength="15" lengthAdjust="spacing" fill="#333" stroke="#333" stroke-width="0.22">-0.025</text>
</g>
<line x1="416.5" y1="85.6" x2="416.5" y2="183" stroke="#2e2e2e" stroke-width="1.02"/>
<path d="M416.8,156 L415.45,148.2 L418.15,148.2Z" fill="#222" stroke="#222" stroke-width="0.3"/>
<path d="M416.8,168 L418.15,175.8 L415.45,175.8Z" fill="#222" stroke="#222" stroke-width="0.3"/>
<g transform="rotate(-90 415 130.3)">
<text x="415" y="130.3" font-size="8.4" textLength="31" lengthAdjust="spacing" fill="#333" stroke="#333" stroke-width="0.22">Φ25.08</text>
<text x="449.8" y="126.7" font-size="5" fill="#333" stroke="#333" stroke-width="0.22">0</text>
<text x="447.2" y="130.8" font-size="5" textLength="12" lengthAdjust="spacing" fill="#333" stroke="#333" stroke-width="0.22">-0.15</text>
</g>
<line x1="380" y1="156.5" x2="421" y2="156.5" stroke="#2e2e2e" stroke-width="1.02"/>
<line x1="380" y1="168.5" x2="421" y2="168.5" stroke="#2e2e2e" stroke-width="1.02"/>
<line x1="353" y1="137.5" x2="440" y2="137.5" stroke="#2e2e2e" stroke-width="1.02"/>
<line x1="356" y1="188.5" x2="440" y2="188.5" stroke="#2e2e2e" stroke-width="1.02"/>
<line x1="436.5" y1="137" x2="436.5" y2="188.2" stroke="#2e2e2e" stroke-width="1.02"/>
<path d="M436.6,137 L437.95,144.8 L435.25,144.8Z" fill="#222" stroke="#222" stroke-width="0.3"/>
<path d="M436.6,188.2 L435.25,180.4 L437.95,180.4Z" fill="#222" stroke="#222" stroke-width="0.3"/>
<g transform="rotate(-90 434.6 186.4)">
<text x="434.6" y="186.4" font-size="8.4" textLength="31" lengthAdjust="spacing" fill="#333" stroke="#333" stroke-width="0.22">Φ101.6</text>
<text x="469.4" y="182.8" font-size="5" fill="#333" stroke="#333" stroke-width="0.22">0</text>
<text x="466.8" y="186.9" font-size="5" textLength="10" lengthAdjust="spacingAndGlyphs" fill="#333" stroke="#333" stroke-width="0.22">-0.05</text>
</g>
<line x1="340.5" y1="197" x2="340.5" y2="215.6" stroke="#2e2e2e" stroke-width="1.02"/>
<line x1="348.5" y1="197" x2="348.5" y2="244.8" stroke="#2e2e2e" stroke-width="1.02"/>
<line x1="326.5" y1="211.5" x2="362" y2="211.5" stroke="#2e2e2e" stroke-width="1.02"/>
<path d="M340.5,211.6 L332.7,212.95 L332.7,210.25Z" fill="#222" stroke="#222" stroke-width="0.3"/>
<path d="M348,211.6 L355.8,210.25 L355.8,212.95Z" fill="#222" stroke="#222" stroke-width="0.3"/>
<line x1="348" y1="211.5" x2="372" y2="211.5" stroke="#2e2e2e" stroke-width="1.02"/>
<text x="366" y="209.4" font-size="8.4" text-anchor="middle" fill="#333" stroke="#333" stroke-width="0.22" letter-spacing="0.35">14</text>
<line x1="255.5" y1="178" x2="255.5" y2="220.1" stroke="#2e2e2e" stroke-width="1.02"/>
<line x1="268.5" y1="178" x2="268.5" y2="220.1" stroke="#2e2e2e" stroke-width="1.02"/>
<line x1="246.3" y1="216.5" x2="277.5" y2="216.5" stroke="#2e2e2e" stroke-width="1.02"/>
<path d="M255.3,216.1 L247.5,217.45 L247.5,214.75Z" fill="#222" stroke="#222" stroke-width="0.3"/>
<path d="M268.5,216.1 L276.3,214.75 L276.3,217.45Z" fill="#222" stroke="#222" stroke-width="0.3"/>
<line x1="240.5" y1="216.5" x2="250" y2="216.5" stroke="#2e2e2e" stroke-width="1.02"/>
<line x1="268.5" y1="216.5" x2="299" y2="216.5" stroke="#2e2e2e" stroke-width="1.02"/>
<text x="289.4" y="215.2" font-size="8.4" text-anchor="middle" fill="#333" stroke="#333" stroke-width="0.22" letter-spacing="0.35">26.2</text>
<line x1="262.5" y1="197" x2="262.5" y2="232.7" stroke="#2e2e2e" stroke-width="1.02"/>
<line x1="262" y1="229.5" x2="348" y2="229.5" stroke="#2e2e2e" stroke-width="1.02"/>
<path d="M262,229.2 L269.8,227.85 L269.8,230.55Z" fill="#222" stroke="#222" stroke-width="0.3"/>
<path d="M348,229.2 L340.2,230.55 L340.2,227.85Z" fill="#222" stroke="#222" stroke-width="0.3"/>
<text x="307.5" y="227.1" font-size="8.4" text-anchor="middle" fill="#333" stroke="#333" stroke-width="0.22" letter-spacing="0.35">170</text>
<line x1="244.5" y1="188" x2="244.5" y2="244.8" stroke="#2e2e2e" stroke-width="1.02"/>
<line x1="244.4" y1="241.5" x2="348" y2="241.5" stroke="#2e2e2e" stroke-width="1.02"/>
<path d="M244.4,241.3 L252.2,239.95 L252.2,242.65Z" fill="#222" stroke="#222" stroke-width="0.3"/>
<path d="M348,241.3 L340.2,242.65 L340.2,239.95Z" fill="#222" stroke="#222" stroke-width="0.3"/>
<text x="300.3" y="240.1" font-size="8.4" text-anchor="middle" fill="#333" stroke="#333" stroke-width="0.22" letter-spacing="0.35">205</text>
<line x1="214.5" y1="131.6" x2="214.5" y2="162.4" stroke="#2e2e2e" stroke-width="1.02"/>
<path d="M214.4,131.6 L215.75,139.4 L213.05,139.4Z" fill="#222" stroke="#222" stroke-width="0.3"/>
<path d="M214.4,162.4 L213.05,154.6 L215.75,154.6Z" fill="#222" stroke="#222" stroke-width="0.3"/>
<text x="212.2" y="147" font-size="8.4" text-anchor="middle" transform="rotate(-90 212.2 147)" fill="#333" stroke="#333" stroke-width="0.22" letter-spacing="0.35">61</text>
<line x1="210.9" y1="162.5" x2="240" y2="162.5" stroke="#2e2e2e" stroke-width="0.84" stroke-dasharray="9 3"/>
<line x1="224" y1="149.5" x2="253" y2="149.5" stroke="#2e2e2e" stroke-width="1.02"/>
<line x1="224" y1="175.5" x2="253" y2="175.5" stroke="#2e2e2e" stroke-width="1.02"/>
<line x1="227.5" y1="149.3" x2="227.5" y2="175.6" stroke="#2e2e2e" stroke-width="1.02"/>
<path d="M227,149.3 L228.35,157.1 L225.65,157.1Z" fill="#222" stroke="#222" stroke-width="0.3"/>
<path d="M227,175.6 L225.65,167.8 L228.35,167.8Z" fill="#222" stroke="#222" stroke-width="0.3"/>
<line x1="227.5" y1="175.6" x2="227.5" y2="200.5" stroke="#2e2e2e" stroke-width="1.02"/>
<text x="224.8" y="188.4" font-size="8.4" text-anchor="middle" transform="rotate(-90 224.8 188.4)" fill="#333" stroke="#333" stroke-width="0.22" letter-spacing="0.35">52.4</text>
<text x="190.6" y="172.6" font-size="8.4" textLength="17.6" lengthAdjust="spacing" fill="#333" stroke="#333" stroke-width="0.22">Φ25</text>
<path d="M190,174.5 L212,174.5 L256,165.4" stroke="#2e2e2e" stroke-width="1.02" fill="none"/>
<path d="M256,165.4 L249.81,168.06 L249.26,165.41Z" fill="#222" stroke="#222" stroke-width="0.3"/>
<text x="187.5" y="220.7" font-size="8.4" textLength="42" lengthAdjust="spacing" fill="#333" stroke="#333" stroke-width="0.22">4–M10x16</text>
<path d="M196.4,222 L230,222 L255,177.4" stroke="#2e2e2e" stroke-width="1.02" fill="none"/>
<path d="M255,177.4 L252.95,183.82 L250.6,182.5Z" fill="#222" stroke="#222" stroke-width="0.3"/>
<line x1="470.2" y1="82.5" x2="519" y2="82.5" stroke="#2e2e2e" stroke-width="1.02"/>
<line x1="470.2" y1="197.5" x2="630" y2="197.5" stroke="#2e2e2e" stroke-width="1.02"/>
<line x1="474.5" y1="82.4" x2="474.5" y2="197" stroke="#2e2e2e" stroke-width="1.02"/>
<path d="M474.2,82.4 L475.55,90.2 L472.85,90.2Z" fill="#222" stroke="#222" stroke-width="0.3"/>
<path d="M474.2,197 L472.85,189.2 L475.55,189.2Z" fill="#222" stroke="#222" stroke-width="0.3"/>
<text x="471.6" y="138" font-size="8.4" text-anchor="middle" transform="rotate(-90 471.6 138)" fill="#333" stroke="#333" stroke-width="0.22" letter-spacing="0.35">226</text>
<line x1="504.5" y1="198" x2="504.5" y2="220.3" stroke="#2e2e2e" stroke-width="1.02"/>
<line x1="579.5" y1="198" x2="579.5" y2="220.3" stroke="#2e2e2e" stroke-width="1.02"/>
<line x1="504.8" y1="216.5" x2="579.3" y2="216.5" stroke="#2e2e2e" stroke-width="1.02"/>
<path d="M504.8,216.8 L512.6,215.45 L512.6,218.15Z" fill="#222" stroke="#222" stroke-width="0.3"/>
<path d="M579.3,216.8 L571.5,218.15 L571.5,215.45Z" fill="#222" stroke="#222" stroke-width="0.3"/>
<text x="544.4" y="215.2" font-size="8.4" text-anchor="middle" fill="#333" stroke="#333" stroke-width="0.22" letter-spacing="0.35">146</text>
<line x1="495.5" y1="177.5" x2="495.5" y2="237.5" stroke="#2e2e2e" stroke-width="1.02"/>
<line x1="588.5" y1="177.5" x2="588.5" y2="237.5" stroke="#2e2e2e" stroke-width="1.02"/>
<line x1="495.4" y1="234.5" x2="588.3" y2="234.5" stroke="#2e2e2e" stroke-width="1.02"/>
<path d="M495.4,234 L503.2,232.65 L503.2,235.35Z" fill="#222" stroke="#222" stroke-width="0.3"/>
<path d="M588.3,234 L580.5,235.35 L580.5,232.65Z" fill="#222" stroke="#222" stroke-width="0.3"/>
<text x="544.2" y="231.8" font-size="8.4" text-anchor="middle" fill="#333" stroke="#333" stroke-width="0.22" letter-spacing="0.35">182</text>
<text x="415" y="220.3" font-size="8.4" textLength="24.2" lengthAdjust="spacing" fill="#333" stroke="#333" stroke-width="0.22">Outlet</text>
<text class="cj" x="441.6" y="220.6" font-size="8.2" letter-spacing="0.3" fill="#333">出油口</text>
<text x="468.8" y="220.3" font-size="8.4" textLength="16.2" lengthAdjust="spacing" fill="#333" stroke="#333" stroke-width="0.22">Φ25</text>
<path d="M412,223.1 L486,223.1 L504.8,181" stroke="#2e2e2e" stroke-width="1.02" fill="none"/>
<path d="M504.8,181 L503.34,187.58 L500.88,186.48Z" fill="#222" stroke="#222" stroke-width="0.3"/>
<text x="602.8" y="220.3" font-size="8.4" textLength="17.5" lengthAdjust="spacing" fill="#333" stroke="#333" stroke-width="0.22">Inlet</text>
<text class="cj" x="622.8" y="220.6" font-size="8.2" letter-spacing="0.3" fill="#333">進油口</text>
<text x="650.4" y="220.3" font-size="8.4" textLength="16.4" lengthAdjust="spacing" fill="#333" stroke="#333" stroke-width="0.22">Φ25</text>
<path d="M670.4,223.1 L600.4,223.1 L579.4,183" stroke="#2e2e2e" stroke-width="1.02" fill="none"/>
<path d="M579.4,183 L583.66,188.22 L581.27,189.47Z" fill="#222" stroke="#222" stroke-width="0.3"/>
<line x1="561" y1="90.5" x2="630" y2="90.5" stroke="#2e2e2e" stroke-width="1.02"/>
<line x1="561" y1="107.5" x2="630" y2="107.5" stroke="#2e2e2e" stroke-width="1.02"/>
<line x1="625.5" y1="76.3" x2="625.5" y2="197" stroke="#2e2e2e" stroke-width="1.02"/>
<path d="M625.5,90.8 L624.15,83 L626.85,83Z" fill="#222" stroke="#222" stroke-width="0.3"/>
<path d="M625.5,107.6 L626.85,115.4 L624.15,115.4Z" fill="#222" stroke="#222" stroke-width="0.3"/>
<path d="M625.5,162.4 L624.15,154.6 L626.85,154.6Z" fill="#222" stroke="#222" stroke-width="0.3"/>
<path d="M625.5,162.4 L626.85,170.2 L624.15,170.2Z" fill="#222" stroke="#222" stroke-width="0.3"/>
<path d="M625.5,197 L624.15,189.2 L626.85,189.2Z" fill="#222" stroke="#222" stroke-width="0.3"/>
<text x="624.4" y="99.2" font-size="8.4" text-anchor="middle" transform="rotate(-90 624.4 99.2)" fill="#333" stroke="#333" stroke-width="0.22" letter-spacing="0.35">33</text>
<text x="624.4" y="135" font-size="8.4" text-anchor="middle" transform="rotate(-90 624.4 135)" fill="#333" stroke="#333" stroke-width="0.22" letter-spacing="0.35">110</text>
<text x="624.4" y="178.5" font-size="8.4" text-anchor="middle" transform="rotate(-90 624.4 178.5)" fill="#333" stroke="#333" stroke-width="0.22" letter-spacing="0.35">68</text>
<line x1="600" y1="162.5" x2="630" y2="162.5" stroke="#2e2e2e" stroke-width="1.02"/>
<line x1="589" y1="157.5" x2="615.5" y2="157.5" stroke="#2e2e2e" stroke-width="1.02"/>
<line x1="589" y1="167.5" x2="615.5" y2="167.5" stroke="#2e2e2e" stroke-width="1.02"/>
<line x1="611.5" y1="123.2" x2="611.5" y2="181.3" stroke="#2e2e2e" stroke-width="1.02"/>
<path d="M611.5,157.2 L610.15,149.4 L612.85,149.4Z" fill="#222" stroke="#222" stroke-width="0.3"/>
<path d="M611.5,167 L612.85,174.8 L610.15,174.8Z" fill="#222" stroke="#222" stroke-width="0.3"/>
<g transform="rotate(-90 609.8 149.8)">
<text x="609.8" y="149.8" font-size="8.4" textLength="17.7" lengthAdjust="spacing" fill="#333" stroke="#333" stroke-width="0.22">13.5</text>
<text x="628.7" y="146.2" font-size="5" textLength="10.5" lengthAdjust="spacing" fill="#333" stroke="#333" stroke-width="0.22">+0.3</text>
<text x="628.7" y="150.3" font-size="5" fill="#333" stroke="#333" stroke-width="0.22">0</text>
</g>
<line x1="603" y1="162.5" x2="606" y2="162.5" stroke="#2e2e2e" stroke-width="1.02"/>
<line x1="159.5" y1="358" x2="159.5" y2="492.4" stroke="#2e2e2e" stroke-width="1.02"/>
<path d="M159.6,358 L160.95,365.8 L158.25,365.8Z" fill="#222" stroke="#222" stroke-width="0.3"/>
<path d="M159.6,492.4 L158.25,484.6 L160.95,484.6Z" fill="#222" stroke="#222" stroke-width="0.3"/>
<text x="157.3" y="420" font-size="8.4" text-anchor="middle" transform="rotate(-90 157.3 420)" fill="#333" stroke="#333" stroke-width="0.22" letter-spacing="0.35">266</text>
<line x1="124.5" y1="358.5" x2="163.1" y2="358.5" stroke="#2e2e2e" stroke-width="1.02"/>
<line x1="100" y1="492.5" x2="163.1" y2="492.5" stroke="#2e2e2e" stroke-width="1.02"/>
<line x1="52.5" y1="472.5" x2="52.5" y2="521.9" stroke="#2e2e2e" stroke-width="1.02"/>
<line x1="144.5" y1="472.5" x2="144.5" y2="521.9" stroke="#2e2e2e" stroke-width="1.02"/>
<line x1="52.5" y1="518.5" x2="144.8" y2="518.5" stroke="#2e2e2e" stroke-width="1.02"/>
<path d="M52.5,518.4 L60.3,517.05 L60.3,519.75Z" fill="#222" stroke="#222" stroke-width="0.3"/>
<path d="M144.8,518.4 L137,519.75 L137,517.05Z" fill="#222" stroke="#222" stroke-width="0.3"/>
<text x="101" y="516.1" font-size="8.4" text-anchor="middle" fill="#333" stroke="#333" stroke-width="0.22" letter-spacing="0.35">182</text>
<line x1="197.5" y1="326.9" x2="197.5" y2="359.4" stroke="#2e2e2e" stroke-width="1.02"/>
<line x1="197.4" y1="330.5" x2="348" y2="330.5" stroke="#2e2e2e" stroke-width="1.02"/>
<path d="M197.4,330.4 L205.2,329.05 L205.2,331.75Z" fill="#222" stroke="#222" stroke-width="0.3"/>
<path d="M348,330.4 L340.2,331.75 L340.2,329.05Z" fill="#222" stroke="#222" stroke-width="0.3"/>
<text x="273.6" y="329.1" font-size="8.4" text-anchor="middle" fill="#333" stroke="#333" stroke-width="0.22" letter-spacing="0.35">297</text>
<line x1="348.5" y1="326.4" x2="348.5" y2="429" stroke="#2e2e2e" stroke-width="1.02"/>
<line x1="377.5" y1="363" x2="377.5" y2="450.5" stroke="#2e2e2e" stroke-width="1.02"/>
<line x1="348" y1="367.5" x2="377.4" y2="367.5" stroke="#2e2e2e" stroke-width="1.02"/>
<path d="M348,367 L355.8,365.65 L355.8,368.35Z" fill="#222" stroke="#222" stroke-width="0.3"/>
<path d="M377.4,367 L369.6,368.35 L369.6,365.65Z" fill="#222" stroke="#222" stroke-width="0.3"/>
<text x="364.2" y="364.8" font-size="8.4" text-anchor="middle" fill="#333" stroke="#333" stroke-width="0.22" letter-spacing="0.35">58.5</text>
<line x1="322.5" y1="363" x2="322.5" y2="412.5" stroke="#2e2e2e" stroke-width="1.02"/>
<line x1="322.4" y1="367.5" x2="348" y2="367.5" stroke="#2e2e2e" stroke-width="1.02"/>
<path d="M322.4,367 L330.2,365.65 L330.2,368.35Z" fill="#222" stroke="#222" stroke-width="0.3"/>
<path d="M348,367 L340.2,368.35 L340.2,365.65Z" fill="#222" stroke="#222" stroke-width="0.3"/>
<text x="336.5" y="364.8" font-size="8.4" text-anchor="middle" fill="#333" stroke="#333" stroke-width="0.22" letter-spacing="0.35">51</text>
<line x1="338.5" y1="381" x2="338.5" y2="410.5" stroke="#2e2e2e" stroke-width="1.02"/>
<line x1="324.4" y1="384.5" x2="362" y2="384.5" stroke="#2e2e2e" stroke-width="1.02"/>
<path d="M338.4,384 L330.6,385.35 L330.6,382.65Z" fill="#222" stroke="#222" stroke-width="0.3"/>
<path d="M348,384 L355.8,382.65 L355.8,385.35Z" fill="#222" stroke="#222" stroke-width="0.3"/>
<text x="343" y="381.8" font-size="8.4" text-anchor="middle" fill="#333" stroke="#333" stroke-width="0.22" letter-spacing="0.35">18</text>
<line x1="352.5" y1="395.6" x2="352.5" y2="429" stroke="#2e2e2e" stroke-width="1.02"/>
<line x1="334" y1="398.5" x2="366" y2="398.5" stroke="#2e2e2e" stroke-width="1.02"/>
<path d="M348,398.6 L340.2,399.95 L340.2,397.25Z" fill="#222" stroke="#222" stroke-width="0.3"/>
<path d="M352,398.6 L359.8,397.25 L359.8,399.95Z" fill="#222" stroke="#222" stroke-width="0.3"/>
<line x1="352" y1="398.5" x2="370" y2="398.5" stroke="#2e2e2e" stroke-width="1.02"/>
<text x="365.6" y="396.8" font-size="8.4" text-anchor="middle" fill="#333" stroke="#333" stroke-width="0.22" letter-spacing="0.35">9</text>
<rect x="410" y="334.7" width="6.4" height="6.3" stroke="#2e2e2e" stroke-width="0.96" fill="none"/>
<text x="418" y="340.8" font-size="8.6" textLength="16.8" lengthAdjust="spacing" fill="#333" stroke="#333" stroke-width="0.22">6.35</text>
<text x="437.5" y="337.4" font-size="4.6" textLength="15.5" lengthAdjust="spacing" fill="#333" stroke="#333" stroke-width="0.22">-0.03</text>
<text x="437.5" y="341.4" font-size="4.6" textLength="15.5" lengthAdjust="spacing" fill="#333" stroke="#333" stroke-width="0.22">-0.05</text>
<text x="454.6" y="340.8" font-size="8.6" textLength="13.4" lengthAdjust="spacingAndGlyphs" fill="#333" stroke="#333" stroke-width="0.22">x40</text>
<line x1="408" y1="338.5" x2="389.3" y2="338.5" stroke="#2e2e2e" stroke-width="1.02"/>
<path d="M389.3,338 L368,450.6" stroke="#2e2e2e" stroke-width="1.02" fill="none"/>
<path d="M368,450.6 L367.9,443.86 L370.55,444.37Z" fill="#222" stroke="#222" stroke-width="0.3"/>
<line x1="401.5" y1="376.5" x2="401.5" y2="478" stroke="#2e2e2e" stroke-width="1.02"/>
<path d="M401.2,451 L399.85,443.2 L402.55,443.2Z" fill="#222" stroke="#222" stroke-width="0.3"/>
<path d="M401.2,463 L402.55,470.8 L399.85,470.8Z" fill="#222" stroke="#222" stroke-width="0.3"/>
<g transform="rotate(-90 399.4 418)">
<text x="399.4" y="418" font-size="8.4" textLength="26" lengthAdjust="spacing" fill="#333" stroke="#333" stroke-width="0.22">Φ22.2</text>
<text x="429.2" y="414.4" font-size="5" fill="#333" stroke="#333" stroke-width="0.22">0</text>
<text x="426.6" y="418.5" font-size="5" textLength="15" lengthAdjust="spacing" fill="#333" stroke="#333" stroke-width="0.22">-0.025</text>
</g>
<line x1="416.5" y1="380" x2="416.5" y2="478" stroke="#2e2e2e" stroke-width="1.02"/>
<path d="M416.8,451 L415.45,443.2 L418.15,443.2Z" fill="#222" stroke="#222" stroke-width="0.3"/>
<path d="M416.8,463 L418.15,470.8 L415.45,470.8Z" fill="#222" stroke="#222" stroke-width="0.3"/>
<g transform="rotate(-90 415 420.6)">
<text x="415" y="420.6" font-size="8.4" textLength="31" lengthAdjust="spacing" fill="#333" stroke="#333" stroke-width="0.22">Φ25.08</text>
<text x="449.8" y="417" font-size="5" fill="#333" stroke="#333" stroke-width="0.22">0</text>
<text x="447.2" y="421.1" font-size="5" textLength="12" lengthAdjust="spacing" fill="#333" stroke="#333" stroke-width="0.22">-0.15</text>
</g>
<line x1="380" y1="451.5" x2="421" y2="451.5" stroke="#2e2e2e" stroke-width="1.02"/>
<line x1="380" y1="463.5" x2="421" y2="463.5" stroke="#2e2e2e" stroke-width="1.02"/>
<line x1="353" y1="432.5" x2="440" y2="432.5" stroke="#2e2e2e" stroke-width="1.02"/>
<line x1="356" y1="483.5" x2="440" y2="483.5" stroke="#2e2e2e" stroke-width="1.02"/>
<line x1="436.5" y1="432" x2="436.5" y2="483.2" stroke="#2e2e2e" stroke-width="1.02"/>
<path d="M436.6,432 L437.95,439.8 L435.25,439.8Z" fill="#222" stroke="#222" stroke-width="0.3"/>
<path d="M436.6,483.2 L435.25,475.4 L437.95,475.4Z" fill="#222" stroke="#222" stroke-width="0.3"/>
<g transform="rotate(-90 434.6 481.4)">
<text x="434.6" y="481.4" font-size="8.4" textLength="31" lengthAdjust="spacing" fill="#333" stroke="#333" stroke-width="0.22">Φ101.6</text>
<text x="469.4" y="477.8" font-size="5" fill="#333" stroke="#333" stroke-width="0.22">0</text>
<text x="466.8" y="481.9" font-size="5" textLength="10" lengthAdjust="spacingAndGlyphs" fill="#333" stroke="#333" stroke-width="0.22">-0.05</text>
</g>
<line x1="340.5" y1="492" x2="340.5" y2="511.6" stroke="#2e2e2e" stroke-width="1.02"/>
<line x1="348.5" y1="492" x2="348.5" y2="538.3" stroke="#2e2e2e" stroke-width="1.02"/>
<line x1="326.5" y1="507.5" x2="362" y2="507.5" stroke="#2e2e2e" stroke-width="1.02"/>
<path d="M340.5,507.6 L332.7,508.95 L332.7,506.25Z" fill="#222" stroke="#222" stroke-width="0.3"/>
<path d="M348,507.6 L355.8,506.25 L355.8,508.95Z" fill="#222" stroke="#222" stroke-width="0.3"/>
<line x1="348" y1="507.5" x2="372" y2="507.5" stroke="#2e2e2e" stroke-width="1.02"/>
<text x="366" y="505.4" font-size="8.4" text-anchor="middle" fill="#333" stroke="#333" stroke-width="0.22" letter-spacing="0.35">14</text>
<line x1="255.5" y1="473" x2="255.5" y2="514.2" stroke="#2e2e2e" stroke-width="1.02"/>
<line x1="268.5" y1="473" x2="268.5" y2="514.2" stroke="#2e2e2e" stroke-width="1.02"/>
<line x1="246.3" y1="510.5" x2="277.5" y2="510.5" stroke="#2e2e2e" stroke-width="1.02"/>
<path d="M255.3,510.2 L247.5,511.55 L247.5,508.85Z" fill="#222" stroke="#222" stroke-width="0.3"/>
<path d="M268.5,510.2 L276.3,508.85 L276.3,511.55Z" fill="#222" stroke="#222" stroke-width="0.3"/>
<line x1="240.5" y1="510.5" x2="250" y2="510.5" stroke="#2e2e2e" stroke-width="1.02"/>
<line x1="268.5" y1="510.5" x2="299" y2="510.5" stroke="#2e2e2e" stroke-width="1.02"/>
<text x="289.4" y="509.3" font-size="8.4" text-anchor="middle" fill="#333" stroke="#333" stroke-width="0.22" letter-spacing="0.35">26.2</text>
<line x1="262.5" y1="492" x2="262.5" y2="525.2" stroke="#2e2e2e" stroke-width="1.02"/>
<line x1="262" y1="521.5" x2="348" y2="521.5" stroke="#2e2e2e" stroke-width="1.02"/>
<path d="M262,521.7 L269.8,520.35 L269.8,523.05Z" fill="#222" stroke="#222" stroke-width="0.3"/>
<path d="M348,521.7 L340.2,523.05 L340.2,520.35Z" fill="#222" stroke="#222" stroke-width="0.3"/>
<text x="307.5" y="519.6" font-size="8.4" text-anchor="middle" fill="#333" stroke="#333" stroke-width="0.22" letter-spacing="0.35">170</text>
<line x1="244.5" y1="483" x2="244.5" y2="538.3" stroke="#2e2e2e" stroke-width="1.02"/>
<line x1="244.4" y1="534.5" x2="348" y2="534.5" stroke="#2e2e2e" stroke-width="1.02"/>
<path d="M244.4,534.8 L252.2,533.45 L252.2,536.15Z" fill="#222" stroke="#222" stroke-width="0.3"/>
<path d="M348,534.8 L340.2,536.15 L340.2,533.45Z" fill="#222" stroke="#222" stroke-width="0.3"/>
<text x="300.3" y="533.6" font-size="8.4" text-anchor="middle" fill="#333" stroke="#333" stroke-width="0.22" letter-spacing="0.35">205</text>
<line x1="220.5" y1="426.8" x2="220.5" y2="457.4" stroke="#2e2e2e" stroke-width="1.02"/>
<path d="M220.6,426.8 L221.95,434.6 L219.25,434.6Z" fill="#222" stroke="#222" stroke-width="0.3"/>
<path d="M220.6,457.4 L219.25,449.6 L221.95,449.6Z" fill="#222" stroke="#222" stroke-width="0.3"/>
<text x="218.4" y="442.1" font-size="8.4" text-anchor="middle" transform="rotate(-90 218.4 442.1)" fill="#333" stroke="#333" stroke-width="0.22" letter-spacing="0.35">61</text>
<line x1="217.1" y1="457.5" x2="240" y2="457.5" stroke="#2e2e2e" stroke-width="0.84" stroke-dasharray="9 3"/>
<line x1="199" y1="397.5" x2="252" y2="397.5" stroke="#2e2e2e" stroke-width="1.02"/>
<line x1="203.5" y1="397.6" x2="203.5" y2="457.4" stroke="#2e2e2e" stroke-width="1.02"/>
<path d="M203,397.6 L204.35,405.4 L201.65,405.4Z" fill="#222" stroke="#222" stroke-width="0.3"/>
<path d="M203,457.4 L201.65,449.6 L204.35,449.6Z" fill="#222" stroke="#222" stroke-width="0.3"/>
<text x="200.8" y="426.5" font-size="8.4" text-anchor="middle" transform="rotate(-90 200.8 426.5)" fill="#333" stroke="#333" stroke-width="0.22" letter-spacing="0.35">119.5</text>
<line x1="199" y1="457.5" x2="218" y2="457.5" stroke="#2e2e2e" stroke-width="1.02"/>
<line x1="228" y1="444.5" x2="253" y2="444.5" stroke="#2e2e2e" stroke-width="1.02"/>
<line x1="228" y1="470.5" x2="253" y2="470.5" stroke="#2e2e2e" stroke-width="1.02"/>
<line x1="231.5" y1="444.3" x2="231.5" y2="470.6" stroke="#2e2e2e" stroke-width="1.02"/>
<path d="M231,444.3 L232.35,452.1 L229.65,452.1Z" fill="#222" stroke="#222" stroke-width="0.3"/>
<path d="M231,470.6 L229.65,462.8 L232.35,462.8Z" fill="#222" stroke="#222" stroke-width="0.3"/>
<line x1="231.5" y1="470.6" x2="231.5" y2="495.5" stroke="#2e2e2e" stroke-width="1.02"/>
<text x="228.8" y="483.4" font-size="8.4" text-anchor="middle" transform="rotate(-90 228.8 483.4)" fill="#333" stroke="#333" stroke-width="0.22" letter-spacing="0.35">52.4</text>
<text x="190.6" y="467.6" font-size="8.4" textLength="17.6" lengthAdjust="spacing" fill="#333" stroke="#333" stroke-width="0.22">Φ25</text>
<path d="M190,469.5 L212,469.5 L256,460.4" stroke="#2e2e2e" stroke-width="1.02" fill="none"/>
<path d="M256,460.4 L249.81,463.06 L249.26,460.41Z" fill="#222" stroke="#222" stroke-width="0.3"/>
<text x="186.5" y="516.3" font-size="8.4" textLength="42" lengthAdjust="spacing" fill="#333" stroke="#333" stroke-width="0.22">4–M10x16</text>
<path d="M196.4,517.6 L230,517.6 L255,472.4" stroke="#2e2e2e" stroke-width="1.02" fill="none"/>
<path d="M255,472.4 L252.99,478.83 L250.62,477.52Z" fill="#222" stroke="#222" stroke-width="0.3"/>
<line x1="458" y1="358.5" x2="519" y2="358.5" stroke="#2e2e2e" stroke-width="1.02"/>
<line x1="458" y1="492.5" x2="630" y2="492.5" stroke="#2e2e2e" stroke-width="1.02"/>
<line x1="462.5" y1="358" x2="462.5" y2="492.4" stroke="#2e2e2e" stroke-width="1.02"/>
<path d="M462,358 L463.35,365.8 L460.65,365.8Z" fill="#222" stroke="#222" stroke-width="0.3"/>
<path d="M462,492.4 L460.65,484.6 L463.35,484.6Z" fill="#222" stroke="#222" stroke-width="0.3"/>
<text x="459.4" y="423" font-size="8.4" text-anchor="middle" transform="rotate(-90 459.4 423)" fill="#333" stroke="#333" stroke-width="0.22" letter-spacing="0.35">266</text>
<line x1="470.5" y1="397.5" x2="522" y2="397.5" stroke="#2e2e2e" stroke-width="1.02"/>
<line x1="474.5" y1="397.6" x2="474.5" y2="457.5" stroke="#2e2e2e" stroke-width="1.02"/>
<path d="M474.4,397.6 L475.75,405.4 L473.05,405.4Z" fill="#222" stroke="#222" stroke-width="0.3"/>
<path d="M474.4,457.5 L473.05,449.7 L475.75,449.7Z" fill="#222" stroke="#222" stroke-width="0.3"/>
<text x="472.2" y="426.5" font-size="8.4" text-anchor="middle" transform="rotate(-90 472.2 426.5)" fill="#333" stroke="#333" stroke-width="0.22" letter-spacing="0.35">119.5</text>
<line x1="504.5" y1="493" x2="504.5" y2="515.2" stroke="#2e2e2e" stroke-width="1.02"/>
<line x1="579.5" y1="493" x2="579.5" y2="515.2" stroke="#2e2e2e" stroke-width="1.02"/>
<line x1="504.8" y1="511.5" x2="579.3" y2="511.5" stroke="#2e2e2e" stroke-width="1.02"/>
<path d="M504.8,511.7 L512.6,510.35 L512.6,513.05Z" fill="#222" stroke="#222" stroke-width="0.3"/>
<path d="M579.3,511.7 L571.5,513.05 L571.5,510.35Z" fill="#222" stroke="#222" stroke-width="0.3"/>
<text x="544.4" y="510.1" font-size="8.4" text-anchor="middle" fill="#333" stroke="#333" stroke-width="0.22" letter-spacing="0.35">146</text>
<line x1="495.5" y1="472.5" x2="495.5" y2="532.8" stroke="#2e2e2e" stroke-width="1.02"/>
<line x1="588.5" y1="472.5" x2="588.5" y2="532.8" stroke="#2e2e2e" stroke-width="1.02"/>
<line x1="495.4" y1="529.5" x2="588.3" y2="529.5" stroke="#2e2e2e" stroke-width="1.02"/>
<path d="M495.4,529.3 L503.2,527.95 L503.2,530.65Z" fill="#222" stroke="#222" stroke-width="0.3"/>
<path d="M588.3,529.3 L580.5,530.65 L580.5,527.95Z" fill="#222" stroke="#222" stroke-width="0.3"/>
<text x="544.2" y="527.1" font-size="8.4" text-anchor="middle" fill="#333" stroke="#333" stroke-width="0.22" letter-spacing="0.35">182</text>
<text x="415" y="514.7" font-size="8.4" textLength="24.2" lengthAdjust="spacing" fill="#333" stroke="#333" stroke-width="0.22">Outlet</text>
<text class="cj" x="441.6" y="515" font-size="8.2" letter-spacing="0.3" fill="#333">出油口</text>
<text x="468.8" y="514.7" font-size="8.4" textLength="16.2" lengthAdjust="spacing" fill="#333" stroke="#333" stroke-width="0.22">Φ25</text>
<path d="M412,517.5 L486,517.5 L504.8,476" stroke="#2e2e2e" stroke-width="1.02" fill="none"/>
<path d="M504.8,476 L503.31,482.57 L500.85,481.45Z" fill="#222" stroke="#222" stroke-width="0.3"/>
<text x="606.5" y="514.7" font-size="8.4" textLength="17.5" lengthAdjust="spacing" fill="#333" stroke="#333" stroke-width="0.22">Inlet</text>
<text class="cj" x="626.5" y="515" font-size="8.2" letter-spacing="0.3" fill="#333">進油口</text>
<text x="654.1" y="514.7" font-size="8.4" textLength="16.4" lengthAdjust="spacing" fill="#333" stroke="#333" stroke-width="0.22">Φ25</text>
<path d="M670.4,517.5 L600.4,517.5 L579.4,478" stroke="#2e2e2e" stroke-width="1.02" fill="none"/>
<path d="M579.4,478 L583.69,483.19 L581.31,484.46Z" fill="#222" stroke="#222" stroke-width="0.3"/>
<line x1="561" y1="366.5" x2="630" y2="366.5" stroke="#2e2e2e" stroke-width="1.02"/>
<line x1="561" y1="382.5" x2="630" y2="382.5" stroke="#2e2e2e" stroke-width="1.02"/>
<line x1="625.5" y1="351.5" x2="625.5" y2="492.4" stroke="#2e2e2e" stroke-width="1.02"/>
<path d="M625.5,366 L624.15,358.2 L626.85,358.2Z" fill="#222" stroke="#222" stroke-width="0.3"/>
<path d="M625.5,382.6 L626.85,390.4 L624.15,390.4Z" fill="#222" stroke="#222" stroke-width="0.3"/>
<path d="M625.5,457.4 L624.15,449.6 L626.85,449.6Z" fill="#222" stroke="#222" stroke-width="0.3"/>
<path d="M625.5,457.4 L626.85,465.2 L624.15,465.2Z" fill="#222" stroke="#222" stroke-width="0.3"/>
<path d="M625.5,492.4 L624.15,484.6 L626.85,484.6Z" fill="#222" stroke="#222" stroke-width="0.3"/>
<text x="624.4" y="374.3" font-size="8.4" text-anchor="middle" transform="rotate(-90 624.4 374.3)" fill="#333" stroke="#333" stroke-width="0.22" letter-spacing="0.35">33</text>
<text x="624.4" y="420" font-size="8.4" text-anchor="middle" transform="rotate(-90 624.4 420)" fill="#333" stroke="#333" stroke-width="0.22" letter-spacing="0.35">150</text>
<text x="624.4" y="473.7" font-size="8.4" text-anchor="middle" transform="rotate(-90 624.4 473.7)" fill="#333" stroke="#333" stroke-width="0.22" letter-spacing="0.35">68</text>
<line x1="600" y1="457.5" x2="630" y2="457.5" stroke="#2e2e2e" stroke-width="1.02"/>
<line x1="589" y1="452.5" x2="615.5" y2="452.5" stroke="#2e2e2e" stroke-width="1.02"/>
<line x1="589" y1="462.5" x2="615.5" y2="462.5" stroke="#2e2e2e" stroke-width="1.02"/>
<line x1="611.5" y1="418.2" x2="611.5" y2="476.3" stroke="#2e2e2e" stroke-width="1.02"/>
<path d="M611.5,452.2 L610.15,444.4 L612.85,444.4Z" fill="#222" stroke="#222" stroke-width="0.3"/>
<path d="M611.5,462 L612.85,469.8 L610.15,469.8Z" fill="#222" stroke="#222" stroke-width="0.3"/>
<g transform="rotate(-90 609.8 444.8)">
<text x="609.8" y="444.8" font-size="8.4" textLength="17.7" lengthAdjust="spacing" fill="#333" stroke="#333" stroke-width="0.22">13.5</text>
<text x="628.7" y="441.2" font-size="5" textLength="10.5" lengthAdjust="spacing" fill="#333" stroke="#333" stroke-width="0.22">+0.3</text>
<text x="628.7" y="445.3" font-size="5" fill="#333" stroke="#333" stroke-width="0.22">0</text>
</g>
<line x1="603" y1="457.5" x2="606" y2="457.5" stroke="#2e2e2e" stroke-width="1.02"/>
<line x1="167.5" y1="666.2" x2="167.5" y2="780.5" stroke="#2e2e2e" stroke-width="1.02"/>
<path d="M167.6,666.2 L168.95,674 L166.25,674Z" fill="#222" stroke="#222" stroke-width="0.3"/>
<path d="M167.6,780.5 L166.25,772.7 L168.95,772.7Z" fill="#222" stroke="#222" stroke-width="0.3"/>
<text x="165.3" y="718.6" font-size="8.4" text-anchor="middle" transform="rotate(-90 165.3 718.6)" fill="#333" stroke="#333" stroke-width="0.22" letter-spacing="0.35">226</text>
<line x1="124.5" y1="666.5" x2="171.1" y2="666.5" stroke="#2e2e2e" stroke-width="1.02"/>
<line x1="100" y1="780.5" x2="171.1" y2="780.5" stroke="#2e2e2e" stroke-width="1.02"/>
<line x1="52.5" y1="761" x2="52.5" y2="807.5" stroke="#2e2e2e" stroke-width="1.02"/>
<line x1="144.5" y1="761" x2="144.5" y2="807.5" stroke="#2e2e2e" stroke-width="1.02"/>
<line x1="52.5" y1="804.5" x2="144.8" y2="804.5" stroke="#2e2e2e" stroke-width="1.02"/>
<path d="M52.5,804 L60.3,802.65 L60.3,805.35Z" fill="#222" stroke="#222" stroke-width="0.3"/>
<path d="M144.8,804 L137,805.35 L137,802.65Z" fill="#222" stroke="#222" stroke-width="0.3"/>
<text x="101" y="801.7" font-size="8.4" text-anchor="middle" fill="#333" stroke="#333" stroke-width="0.22" letter-spacing="0.35">182</text>
<line x1="197.5" y1="651.8" x2="197.5" y2="667.5" stroke="#2e2e2e" stroke-width="1.02"/>
<line x1="197.4" y1="655.5" x2="348" y2="655.5" stroke="#2e2e2e" stroke-width="1.02"/>
<path d="M197.4,655.3 L205.2,653.95 L205.2,656.65Z" fill="#222" stroke="#222" stroke-width="0.3"/>
<path d="M348,655.3 L340.2,656.65 L340.2,653.95Z" fill="#222" stroke="#222" stroke-width="0.3"/>
<text x="274" y="654" font-size="8.4" text-anchor="middle" fill="#333" stroke="#333" stroke-width="0.22" letter-spacing="0.35">297</text>
<line x1="348.5" y1="651.3" x2="348.5" y2="717.5" stroke="#2e2e2e" stroke-width="1.02"/>
<line x1="377.5" y1="651.3" x2="377.5" y2="739" stroke="#2e2e2e" stroke-width="1.02"/>
<line x1="348" y1="655.5" x2="377.4" y2="655.5" stroke="#2e2e2e" stroke-width="1.02"/>
<path d="M348,655.3 L355.8,653.95 L355.8,656.65Z" fill="#222" stroke="#222" stroke-width="0.3"/>
<path d="M377.4,655.3 L369.6,656.65 L369.6,653.95Z" fill="#222" stroke="#222" stroke-width="0.3"/>
<text x="364.2" y="653.1" font-size="8.4" text-anchor="middle" fill="#333" stroke="#333" stroke-width="0.22" letter-spacing="0.35">58.5</text>
<line x1="377.4" y1="655.5" x2="381" y2="655.5" stroke="#2e2e2e" stroke-width="1.02"/>
<line x1="322.5" y1="664.5" x2="322.5" y2="701" stroke="#2e2e2e" stroke-width="1.02"/>
<line x1="322.4" y1="668.5" x2="348" y2="668.5" stroke="#2e2e2e" stroke-width="1.02"/>
<path d="M322.4,668.5 L330.2,667.15 L330.2,669.85Z" fill="#222" stroke="#222" stroke-width="0.3"/>
<path d="M348,668.5 L340.2,669.85 L340.2,667.15Z" fill="#222" stroke="#222" stroke-width="0.3"/>
<text x="336.5" y="666.3" font-size="8.4" text-anchor="middle" fill="#333" stroke="#333" stroke-width="0.22" letter-spacing="0.35">51</text>
<line x1="338.5" y1="677.9" x2="338.5" y2="699" stroke="#2e2e2e" stroke-width="1.02"/>
<line x1="324.4" y1="680.5" x2="362" y2="680.5" stroke="#2e2e2e" stroke-width="1.02"/>
<path d="M338.4,680.9 L330.6,682.25 L330.6,679.55Z" fill="#222" stroke="#222" stroke-width="0.3"/>
<path d="M348,680.9 L355.8,679.55 L355.8,682.25Z" fill="#222" stroke="#222" stroke-width="0.3"/>
<text x="343" y="678.7" font-size="8.4" text-anchor="middle" fill="#333" stroke="#333" stroke-width="0.22" letter-spacing="0.35">18</text>
<line x1="352.5" y1="691.9" x2="352.5" y2="717.5" stroke="#2e2e2e" stroke-width="1.02"/>
<line x1="334" y1="694.5" x2="366" y2="694.5" stroke="#2e2e2e" stroke-width="1.02"/>
<path d="M348,694.9 L340.2,696.25 L340.2,693.55Z" fill="#222" stroke="#222" stroke-width="0.3"/>
<path d="M352,694.9 L359.8,693.55 L359.8,696.25Z" fill="#222" stroke="#222" stroke-width="0.3"/>
<line x1="352" y1="694.5" x2="370" y2="694.5" stroke="#2e2e2e" stroke-width="1.02"/>
<text x="365.6" y="693.1" font-size="8.4" text-anchor="middle" fill="#333" stroke="#333" stroke-width="0.22" letter-spacing="0.35">9</text>
<rect x="413.6" y="647.7" width="6.4" height="6.3" stroke="#2e2e2e" stroke-width="0.96" fill="none"/>
<text x="421.6" y="653.8" font-size="8.6" textLength="16.8" lengthAdjust="spacing" fill="#333" stroke="#333" stroke-width="0.22">6.35</text>
<text x="441.1" y="650.4" font-size="4.6" textLength="15.5" lengthAdjust="spacing" fill="#333" stroke="#333" stroke-width="0.22">-0.03</text>
<text x="441.1" y="654.4" font-size="4.6" textLength="15.5" lengthAdjust="spacing" fill="#333" stroke="#333" stroke-width="0.22">-0.05</text>
<text x="458.2" y="653.8" font-size="8.6" textLength="13.4" lengthAdjust="spacingAndGlyphs" fill="#333" stroke="#333" stroke-width="0.22">x40</text>
<line x1="411.6" y1="651.5" x2="392.9" y2="651.5" stroke="#2e2e2e" stroke-width="1.02"/>
<path d="M392.9,651 L368,739.1" stroke="#2e2e2e" stroke-width="1.02" fill="none"/>
<path d="M368,739.1 L368.5,732.38 L371.09,733.12Z" fill="#222" stroke="#222" stroke-width="0.3"/>
<line x1="401.5" y1="666.8" x2="401.5" y2="766.5" stroke="#2e2e2e" stroke-width="1.02"/>
<path d="M401.2,739.5 L399.85,731.7 L402.55,731.7Z" fill="#222" stroke="#222" stroke-width="0.3"/>
<path d="M401.2,751.5 L402.55,759.3 L399.85,759.3Z" fill="#222" stroke="#222" stroke-width="0.3"/>
<g transform="rotate(-90 399.4 711.6)">
<text x="399.4" y="711.6" font-size="8.4" textLength="26" lengthAdjust="spacing" fill="#333" stroke="#333" stroke-width="0.22">Φ22.2</text>
<text x="429.2" y="708" font-size="5" fill="#333" stroke="#333" stroke-width="0.22">0</text>
<text x="426.6" y="712.1" font-size="5" textLength="15" lengthAdjust="spacing" fill="#333" stroke="#333" stroke-width="0.22">-0.025</text>
</g>
<line x1="416.5" y1="670.3" x2="416.5" y2="766.5" stroke="#2e2e2e" stroke-width="1.02"/>
<path d="M416.8,739.5 L415.45,731.7 L418.15,731.7Z" fill="#222" stroke="#222" stroke-width="0.3"/>
<path d="M416.8,751.5 L418.15,759.3 L415.45,759.3Z" fill="#222" stroke="#222" stroke-width="0.3"/>
<g transform="rotate(-90 415 714.2)">
<text x="415" y="714.2" font-size="8.4" textLength="31" lengthAdjust="spacing" fill="#333" stroke="#333" stroke-width="0.22">Φ25.08</text>
<text x="449.8" y="710.6" font-size="5" fill="#333" stroke="#333" stroke-width="0.22">0</text>
<text x="447.2" y="714.7" font-size="5" textLength="12" lengthAdjust="spacing" fill="#333" stroke="#333" stroke-width="0.22">-0.15</text>
</g>
<line x1="380" y1="739.5" x2="421" y2="739.5" stroke="#2e2e2e" stroke-width="1.02"/>
<line x1="380" y1="751.5" x2="421" y2="751.5" stroke="#2e2e2e" stroke-width="1.02"/>
<line x1="353" y1="720.5" x2="440" y2="720.5" stroke="#2e2e2e" stroke-width="1.02"/>
<line x1="356" y1="771.5" x2="440" y2="771.5" stroke="#2e2e2e" stroke-width="1.02"/>
<line x1="436.5" y1="720.5" x2="436.5" y2="771.7" stroke="#2e2e2e" stroke-width="1.02"/>
<path d="M436.6,720.5 L437.95,728.3 L435.25,728.3Z" fill="#222" stroke="#222" stroke-width="0.3"/>
<path d="M436.6,771.7 L435.25,763.9 L437.95,763.9Z" fill="#222" stroke="#222" stroke-width="0.3"/>
<g transform="rotate(-90 434.6 769.9)">
<text x="434.6" y="769.9" font-size="8.4" textLength="31" lengthAdjust="spacing" fill="#333" stroke="#333" stroke-width="0.22">Φ101.6</text>
<text x="469.4" y="766.3" font-size="5" fill="#333" stroke="#333" stroke-width="0.22">0</text>
<text x="466.8" y="770.4" font-size="5" textLength="10" lengthAdjust="spacingAndGlyphs" fill="#333" stroke="#333" stroke-width="0.22">-0.05</text>
</g>
<line x1="340.5" y1="780.5" x2="340.5" y2="804" stroke="#2e2e2e" stroke-width="1.02"/>
<line x1="348.5" y1="780.5" x2="348.5" y2="831.7" stroke="#2e2e2e" stroke-width="1.02"/>
<line x1="326.5" y1="800.5" x2="362" y2="800.5" stroke="#2e2e2e" stroke-width="1.02"/>
<path d="M340.5,800 L332.7,801.35 L332.7,798.65Z" fill="#222" stroke="#222" stroke-width="0.3"/>
<path d="M348,800 L355.8,798.65 L355.8,801.35Z" fill="#222" stroke="#222" stroke-width="0.3"/>
<line x1="348" y1="800.5" x2="372" y2="800.5" stroke="#2e2e2e" stroke-width="1.02"/>
<text x="366" y="797.8" font-size="8.4" text-anchor="middle" fill="#333" stroke="#333" stroke-width="0.22" letter-spacing="0.35">14</text>
<line x1="255.5" y1="761.5" x2="255.5" y2="804.2" stroke="#2e2e2e" stroke-width="1.02"/>
<line x1="268.5" y1="761.5" x2="268.5" y2="804.2" stroke="#2e2e2e" stroke-width="1.02"/>
<line x1="246.3" y1="800.5" x2="277.5" y2="800.5" stroke="#2e2e2e" stroke-width="1.02"/>
<path d="M255.3,800.2 L247.5,801.55 L247.5,798.85Z" fill="#222" stroke="#222" stroke-width="0.3"/>
<path d="M268.5,800.2 L276.3,798.85 L276.3,801.55Z" fill="#222" stroke="#222" stroke-width="0.3"/>
<line x1="240.5" y1="800.5" x2="250" y2="800.5" stroke="#2e2e2e" stroke-width="1.02"/>
<line x1="268.5" y1="800.5" x2="299" y2="800.5" stroke="#2e2e2e" stroke-width="1.02"/>
<text x="289.4" y="799.3" font-size="8.4" text-anchor="middle" fill="#333" stroke="#333" stroke-width="0.22" letter-spacing="0.35">26.2</text>
<line x1="262.5" y1="780.5" x2="262.5" y2="817.1" stroke="#2e2e2e" stroke-width="1.02"/>
<line x1="262" y1="813.5" x2="348" y2="813.5" stroke="#2e2e2e" stroke-width="1.02"/>
<path d="M262,813.6 L269.8,812.25 L269.8,814.95Z" fill="#222" stroke="#222" stroke-width="0.3"/>
<path d="M348,813.6 L340.2,814.95 L340.2,812.25Z" fill="#222" stroke="#222" stroke-width="0.3"/>
<text x="307.5" y="811.5" font-size="8.4" text-anchor="middle" fill="#333" stroke="#333" stroke-width="0.22" letter-spacing="0.35">170</text>
<line x1="244.5" y1="771.5" x2="244.5" y2="831.7" stroke="#2e2e2e" stroke-width="1.02"/>
<line x1="244.4" y1="828.5" x2="348" y2="828.5" stroke="#2e2e2e" stroke-width="1.02"/>
<path d="M244.4,828.2 L252.2,826.85 L252.2,829.55Z" fill="#222" stroke="#222" stroke-width="0.3"/>
<path d="M348,828.2 L340.2,829.55 L340.2,826.85Z" fill="#222" stroke="#222" stroke-width="0.3"/>
<text x="300.3" y="827" font-size="8.4" text-anchor="middle" fill="#333" stroke="#333" stroke-width="0.22" letter-spacing="0.35">205</text>
<line x1="186.5" y1="715.7" x2="186.5" y2="745.9" stroke="#2e2e2e" stroke-width="1.02"/>
<path d="M186,715.7 L187.35,723.5 L184.65,723.5Z" fill="#222" stroke="#222" stroke-width="0.3"/>
<path d="M186,745.9 L184.65,738.1 L187.35,738.1Z" fill="#222" stroke="#222" stroke-width="0.3"/>
<text x="183.8" y="730.8" font-size="8.4" text-anchor="middle" transform="rotate(-90 183.8 730.8)" fill="#333" stroke="#333" stroke-width="0.22" letter-spacing="0.35">61</text>
<line x1="182.5" y1="745.5" x2="240" y2="745.5" stroke="#2e2e2e" stroke-width="0.84" stroke-dasharray="9 3"/>
<line x1="222" y1="732.5" x2="253" y2="732.5" stroke="#2e2e2e" stroke-width="1.02"/>
<line x1="222" y1="759.5" x2="253" y2="759.5" stroke="#2e2e2e" stroke-width="1.02"/>
<line x1="225.5" y1="732.8" x2="225.5" y2="759.1" stroke="#2e2e2e" stroke-width="1.02"/>
<path d="M225,732.8 L226.35,740.6 L223.65,740.6Z" fill="#222" stroke="#222" stroke-width="0.3"/>
<path d="M225,759.1 L223.65,751.3 L226.35,751.3Z" fill="#222" stroke="#222" stroke-width="0.3"/>
<line x1="225.5" y1="759.1" x2="225.5" y2="784" stroke="#2e2e2e" stroke-width="1.02"/>
<text x="222.8" y="771.9" font-size="8.4" text-anchor="middle" transform="rotate(-90 222.8 771.9)" fill="#333" stroke="#333" stroke-width="0.22" letter-spacing="0.35">52.4</text>
<text x="190.6" y="756.1" font-size="8.4" textLength="17.6" lengthAdjust="spacing" fill="#333" stroke="#333" stroke-width="0.22">Φ25</text>
<path d="M190,758 L212,758 L256,748.9" stroke="#2e2e2e" stroke-width="1.02" fill="none"/>
<path d="M256,748.9 L249.81,751.56 L249.26,748.91Z" fill="#222" stroke="#222" stroke-width="0.3"/>
<text x="196.4" y="803.5" font-size="8.4" textLength="42" lengthAdjust="spacing" fill="#333" stroke="#333" stroke-width="0.22">4–M10x16</text>
<path d="M196.4,804.8 L230,804.8 L255,760.9" stroke="#2e2e2e" stroke-width="1.02" fill="none"/>
<path d="M255,760.9 L252.91,767.3 L250.56,765.97Z" fill="#222" stroke="#222" stroke-width="0.3"/>
<line x1="470.8" y1="666.5" x2="519" y2="666.5" stroke="#2e2e2e" stroke-width="1.02"/>
<line x1="470.8" y1="780.5" x2="630" y2="780.5" stroke="#2e2e2e" stroke-width="1.02"/>
<line x1="474.5" y1="666.2" x2="474.5" y2="780.5" stroke="#2e2e2e" stroke-width="1.02"/>
<path d="M474.8,666.2 L476.15,674 L473.45,674Z" fill="#222" stroke="#222" stroke-width="0.3"/>
<path d="M474.8,780.5 L473.45,772.7 L476.15,772.7Z" fill="#222" stroke="#222" stroke-width="0.3"/>
<text x="472.2" y="722" font-size="8.4" text-anchor="middle" transform="rotate(-90 472.2 722)" fill="#333" stroke="#333" stroke-width="0.22" letter-spacing="0.35">226</text>
<line x1="504.5" y1="781.5" x2="504.5" y2="803.9" stroke="#2e2e2e" stroke-width="1.02"/>
<line x1="579.5" y1="781.5" x2="579.5" y2="803.9" stroke="#2e2e2e" stroke-width="1.02"/>
<line x1="504.8" y1="800.5" x2="579.3" y2="800.5" stroke="#2e2e2e" stroke-width="1.02"/>
<path d="M504.8,800.4 L512.6,799.05 L512.6,801.75Z" fill="#222" stroke="#222" stroke-width="0.3"/>
<path d="M579.3,800.4 L571.5,801.75 L571.5,799.05Z" fill="#222" stroke="#222" stroke-width="0.3"/>
<text x="544.4" y="798.8" font-size="8.4" text-anchor="middle" fill="#333" stroke="#333" stroke-width="0.22" letter-spacing="0.35">146</text>
<line x1="495.5" y1="761" x2="495.5" y2="822.7" stroke="#2e2e2e" stroke-width="1.02"/>
<line x1="588.5" y1="761" x2="588.5" y2="822.7" stroke="#2e2e2e" stroke-width="1.02"/>
<line x1="495.4" y1="819.5" x2="588.3" y2="819.5" stroke="#2e2e2e" stroke-width="1.02"/>
<path d="M495.4,819.2 L503.2,817.85 L503.2,820.55Z" fill="#222" stroke="#222" stroke-width="0.3"/>
<path d="M588.3,819.2 L580.5,820.55 L580.5,817.85Z" fill="#222" stroke="#222" stroke-width="0.3"/>
<text x="544.2" y="817" font-size="8.4" text-anchor="middle" fill="#333" stroke="#333" stroke-width="0.22" letter-spacing="0.35">182</text>
<text x="415" y="803" font-size="8.4" textLength="24.2" lengthAdjust="spacing" fill="#333" stroke="#333" stroke-width="0.22">Outlet</text>
<text class="cj" x="441.6" y="803.3" font-size="8.2" letter-spacing="0.3" fill="#333">出油口</text>
<text x="468.8" y="803" font-size="8.4" textLength="16.2" lengthAdjust="spacing" fill="#333" stroke="#333" stroke-width="0.22">Φ25</text>
<path d="M412,805.8 L486,805.8 L504.8,764.5" stroke="#2e2e2e" stroke-width="1.02" fill="none"/>
<path d="M504.8,764.5 L503.29,771.07 L500.84,769.95Z" fill="#222" stroke="#222" stroke-width="0.3"/>
<text x="606.5" y="803" font-size="8.4" textLength="17.5" lengthAdjust="spacing" fill="#333" stroke="#333" stroke-width="0.22">Inlet</text>
<text class="cj" x="626.5" y="803.3" font-size="8.2" letter-spacing="0.3" fill="#333">進油口</text>
<text x="654.1" y="803" font-size="8.4" textLength="16.4" lengthAdjust="spacing" fill="#333" stroke="#333" stroke-width="0.22">Φ25</text>
<path d="M670.4,805.8 L600.4,805.8 L579.4,766.5" stroke="#2e2e2e" stroke-width="1.02" fill="none"/>
<path d="M579.4,766.5 L583.7,771.68 L581.32,772.96Z" fill="#222" stroke="#222" stroke-width="0.3"/>
<line x1="561" y1="674.5" x2="630" y2="674.5" stroke="#2e2e2e" stroke-width="1.02"/>
<line x1="561" y1="691.5" x2="630" y2="691.5" stroke="#2e2e2e" stroke-width="1.02"/>
<line x1="625.5" y1="660.1" x2="625.5" y2="780.5" stroke="#2e2e2e" stroke-width="1.02"/>
<path d="M625.5,674.6 L624.15,666.8 L626.85,666.8Z" fill="#222" stroke="#222" stroke-width="0.3"/>
<path d="M625.5,691 L626.85,698.8 L624.15,698.8Z" fill="#222" stroke="#222" stroke-width="0.3"/>
<path d="M625.5,745.9 L624.15,738.1 L626.85,738.1Z" fill="#222" stroke="#222" stroke-width="0.3"/>
<path d="M625.5,745.9 L626.85,753.7 L624.15,753.7Z" fill="#222" stroke="#222" stroke-width="0.3"/>
<path d="M625.5,780.5 L624.15,772.7 L626.85,772.7Z" fill="#222" stroke="#222" stroke-width="0.3"/>
<text x="624.4" y="682.8" font-size="8.4" text-anchor="middle" transform="rotate(-90 624.4 682.8)" fill="#333" stroke="#333" stroke-width="0.22" letter-spacing="0.35">33</text>
<text x="624.4" y="718.45" font-size="8.4" text-anchor="middle" transform="rotate(-90 624.4 718.45)" fill="#333" stroke="#333" stroke-width="0.22" letter-spacing="0.35">110</text>
<text x="624.4" y="762" font-size="8.4" text-anchor="middle" transform="rotate(-90 624.4 762)" fill="#333" stroke="#333" stroke-width="0.22" letter-spacing="0.35">68</text>
<line x1="600" y1="745.5" x2="630" y2="745.5" stroke="#2e2e2e" stroke-width="1.02"/>
<line x1="589" y1="740.5" x2="615.5" y2="740.5" stroke="#2e2e2e" stroke-width="1.02"/>
<line x1="589" y1="750.5" x2="615.5" y2="750.5" stroke="#2e2e2e" stroke-width="1.02"/>
<line x1="611.5" y1="706.7" x2="611.5" y2="764.8" stroke="#2e2e2e" stroke-width="1.02"/>
<path d="M611.5,740.7 L610.15,732.9 L612.85,732.9Z" fill="#222" stroke="#222" stroke-width="0.3"/>
<path d="M611.5,750.5 L612.85,758.3 L610.15,758.3Z" fill="#222" stroke="#222" stroke-width="0.3"/>
<g transform="rotate(-90 609.8 733.3)">
<text x="609.8" y="733.3" font-size="8.4" textLength="17.7" lengthAdjust="spacing" fill="#333" stroke="#333" stroke-width="0.22">13.5</text>
<text x="628.7" y="729.7" font-size="5" textLength="10.5" lengthAdjust="spacing" fill="#333" stroke="#333" stroke-width="0.22">+0.3</text>
<text x="628.7" y="733.8" font-size="5" fill="#333" stroke="#333" stroke-width="0.22">0</text>
</g>
<line x1="603" y1="745.5" x2="606" y2="745.5" stroke="#2e2e2e" stroke-width="1.02"/>
<text class="cj" x="115.2" y="35.6" font-size="8.6" fill="#333">濕式換向電磁閥</text>
<text x="115.2" y="45" font-size="8.4" textLength="96" lengthAdjust="spacing" fill="#333" stroke="#333" stroke-width="0.22">Solenoid Control Valves</text>
<path d="M113.5,46.7 L208.7,46.7 L212,83.6" stroke="#2e2e2e" stroke-width="1.02" fill="none"/>
<path d="M212,83.6 L210.07,77.15 L212.76,76.91Z" fill="#222" stroke="#222" stroke-width="0.3"/>
<text class="cj" x="109.2" y="54.4" font-size="8.6" fill="#333">流量調整</text>
<text x="108.8" y="64.2" font-size="8.4" textLength="67" lengthAdjust="spacing" fill="#333" stroke="#333" stroke-width="0.22">Flow Adjustment</text>
<path d="M106,66 L170,66 L230.7,127.6" stroke="#2e2e2e" stroke-width="1.02" fill="none"/>
<path d="M230.7,127.6 L225.11,123.85 L227.03,121.95Z" fill="#222" stroke="#222" stroke-width="0.3"/>
<path d="M79.39,59.8 A12.3,12.3 0 1 1 92.85,56.94" stroke="#2e2e2e" stroke-width="1.02" fill="none"/>
<path d="M87.91,59.75 L92.53,55.17 L94.21,58.13Z" fill="#222" stroke="#222" stroke-width="0.3"/>
<text x="66.8" y="69.8" font-size="8.4" textLength="19.5" lengthAdjust="spacingAndGlyphs" fill="#333" stroke="#333" stroke-width="0.22">DEC.</text>
<text class="cj" x="87" y="70.6" font-size="8.6" letter-spacing="0.3" fill="#333">減小</text>
<text class="cj" x="240" y="42.6" font-size="8.6" fill="#333">洩油口</text>
<text x="240" y="51.6" font-size="8.4" textLength="68.5" lengthAdjust="spacing" fill="#333" stroke="#333" stroke-width="0.22">Drain Port:G 3/8"</text>
<path d="M236.7,53.2 L310,53.2 L324.8,116.2" stroke="#2e2e2e" stroke-width="1.02" fill="none"/>
<path d="M324.8,116.2 L321.98,110.08 L324.6,109.47Z" fill="#222" stroke="#222" stroke-width="0.3"/>
<text class="cj" x="482.8" y="52" font-size="8.6" fill="#333">注油口</text>
<text x="482.8" y="61.6" font-size="8.4" textLength="43.2" lengthAdjust="spacing" fill="#333" stroke="#333" stroke-width="0.22">Filling Port</text>
<path d="M481,63.2 L530,63.2 L542.6,116.4" stroke="#2e2e2e" stroke-width="1.02" fill="none"/>
<path d="M542.6,116.4 L539.77,110.29 L542.39,109.67Z" fill="#222" stroke="#222" stroke-width="0.3"/>
<text class="cj" x="92.6" y="307.4" font-size="8.6" fill="#333">濕式換向電磁閥</text>
<text x="92.6" y="316.4" font-size="8.4" textLength="97" lengthAdjust="spacing" fill="#333" stroke="#333" stroke-width="0.22">Solenoid Control Valves</text>
<path d="M89,319.8 L185.8,319.8 L206,358.8" stroke="#2e2e2e" stroke-width="1.02" fill="none"/>
<path d="M206,358.8 L201.77,353.56 L204.16,352.32Z" fill="#222" stroke="#222" stroke-width="0.3"/>
<text class="cj" x="89.8" y="334.6" font-size="8.6" fill="#333">流量調整</text>
<text x="89.6" y="343.4" font-size="8.4" textLength="67.4" lengthAdjust="spacing" fill="#333" stroke="#333" stroke-width="0.22">Flow Adjustment</text>
<path d="M86.5,346 L168.7,346 L231,421.8" stroke="#2e2e2e" stroke-width="1.02" fill="none"/>
<path d="M231,421.8 L225.77,417.56 L227.85,415.84Z" fill="#222" stroke="#222" stroke-width="0.3"/>
<path d="M57.59,339.6 A12.3,12.3 0 1 1 71.05,336.74" stroke="#2e2e2e" stroke-width="1.02" fill="none"/>
<path d="M66.11,339.55 L70.73,334.97 L72.41,337.93Z" fill="#222" stroke="#222" stroke-width="0.3"/>
<text x="44.8" y="349" font-size="8.4" textLength="19.5" lengthAdjust="spacingAndGlyphs" fill="#333" stroke="#333" stroke-width="0.22">DEC.</text>
<text class="cj" x="65" y="349.8" font-size="8.6" letter-spacing="0.3" fill="#333">減小</text>
<text class="cj" x="220.2" y="341.2" font-size="8.6" fill="#333">洩油口</text>
<text x="220.2" y="350.8" font-size="8.4" textLength="68.5" lengthAdjust="spacing" fill="#333" stroke="#333" stroke-width="0.22">Drain Port:G 3/8"</text>
<path d="M217.3,352.2 L293,352.2 L324.8,411.2" stroke="#2e2e2e" stroke-width="1.02" fill="none"/>
<path d="M324.8,411.2 L320.48,406.03 L322.86,404.75Z" fill="#222" stroke="#222" stroke-width="0.3"/>
<text class="cj" x="331.6" y="309.8" font-size="8.7" fill="#333">外接遙控壓力調整接口</text>
<text x="331.6" y="318.8" font-size="8.4" textLength="116.4" lengthAdjust="spacing" fill="#333" stroke="#333" stroke-width="0.22">Remote Pressure Port:PT1/4</text>
<path d="M451,321 L329.4,321 L260.3,395.6" stroke="#2e2e2e" stroke-width="1.02" fill="none"/>
<path d="M260.3,395.6 L263.79,389.84 L265.78,391.68Z" fill="#222" stroke="#222" stroke-width="0.3"/>
<text class="cj" x="482.6" y="334.4" font-size="8.6" fill="#333">注油口</text>
<text x="482.6" y="344" font-size="8.4" textLength="43.2" lengthAdjust="spacing" fill="#333" stroke="#333" stroke-width="0.22">Filling Port</text>
<path d="M481.6,346.4 L531,346.4 L542.6,411.4" stroke="#2e2e2e" stroke-width="1.02" fill="none"/>
<path d="M542.6,411.4 L540.11,405.14 L542.77,404.67Z" fill="#222" stroke="#222" stroke-width="0.3"/>
<text class="cj" x="104.2" y="598.4" font-size="8.8" fill="#333">濕式換向電磁閥</text>
<text x="104.2" y="607.8" font-size="8.4" textLength="97" lengthAdjust="spacing" fill="#333" stroke="#333" stroke-width="0.22">Solenoid Control Valves</text>
<path d="M102.4,610.4 L196.7,610.4 L211.3,667.3" stroke="#2e2e2e" stroke-width="1.02" fill="none"/>
<path d="M211.3,667.3 L208.35,661.24 L210.97,660.57Z" fill="#222" stroke="#222" stroke-width="0.3"/>
<text class="cj" x="86.2" y="622" font-size="8.6" fill="#333">小流量調整</text>
<text x="86.4" y="630.6" font-size="8.4" textLength="85.4" lengthAdjust="spacing" fill="#333" stroke="#333" stroke-width="0.22">Low Flow Adjustment</text>
<path d="M84.7,633.2 L164,633.2 L211.6,708.7" stroke="#2e2e2e" stroke-width="1.02" fill="none"/>
<path d="M211.6,708.7 L206.94,703.84 L209.22,702.4Z" fill="#222" stroke="#222" stroke-width="0.3"/>
<text class="cj" x="86.2" y="645.4" font-size="8.6" fill="#333">大流量調整</text>
<text x="86.4" y="654.3" font-size="8.4" textLength="87.6" lengthAdjust="spacing" fill="#333" stroke="#333" stroke-width="0.22">High Flow Adjustment</text>
<path d="M84.7,657.3 L171.5,657.3 L200.7,712" stroke="#2e2e2e" stroke-width="1.02" fill="none"/>
<path d="M200.7,712 L196.4,706.81 L198.78,705.54Z" fill="#222" stroke="#222" stroke-width="0.3"/>
<path d="M54.39,640.6 A12.3,12.3 0 1 1 67.85,637.74" stroke="#2e2e2e" stroke-width="1.02" fill="none"/>
<path d="M62.91,640.55 L67.53,635.97 L69.21,638.93Z" fill="#222" stroke="#222" stroke-width="0.3"/>
<text x="41.6" y="650" font-size="8.4" textLength="19.5" lengthAdjust="spacingAndGlyphs" fill="#333" stroke="#333" stroke-width="0.22">DEC.</text>
<text class="cj" x="61.8" y="650.8" font-size="8.6" letter-spacing="0.3" fill="#333">減小</text>
<text class="cj" x="239.2" y="625.8" font-size="8.6" fill="#333">洩油口</text>
<text x="239.2" y="635.2" font-size="8.4" textLength="68" lengthAdjust="spacing" fill="#333" stroke="#333" stroke-width="0.22">Drain Port:G 3/8"</text>
<path d="M236.4,637.2 L311.4,637.2 L324.8,699.6" stroke="#2e2e2e" stroke-width="1.02" fill="none"/>
<path d="M324.8,699.6 L322.09,693.43 L324.73,692.86Z" fill="#222" stroke="#222" stroke-width="0.3"/>
<text class="cj" x="488" y="641.2" font-size="8.6" fill="#333">注油口</text>
<text x="488" y="650.8" font-size="8.4" textLength="43.2" lengthAdjust="spacing" fill="#333" stroke="#333" stroke-width="0.22">Filling Port</text>
<path d="M486,653 L536,653 L541.6,699.6" stroke="#2e2e2e" stroke-width="1.02" fill="none"/>
<path d="M541.6,699.6 L539.47,693.21 L542.15,692.89Z" fill="#222" stroke="#222" stroke-width="0.3"/>
<text class="cj" x="602.6" y="11.2" font-size="8" letter-spacing="0.15" fill="#333">差壓調整螺絲</text>
<text x="651.6" y="11" font-size="8.6" fill="#333" stroke="#333" stroke-width="0.22">FC</text>
<text class="cj" x="663" y="11.2" font-size="8" fill="#333">閥</text>
<text x="602.4" y="20.3" font-size="8.6" textLength="50.4" lengthAdjust="spacingAndGlyphs" fill="#333" stroke="#333" stroke-width="0.22">Low Pressure</text>
<text x="602.4" y="29.9" font-size="8.6" textLength="41.4" lengthAdjust="spacingAndGlyphs" fill="#333" stroke="#333" stroke-width="0.22">Adjustment</text>
<text class="cj" x="602.6" y="46.4" font-size="8" letter-spacing="0.15" fill="#333">最高壓調整螺絲</text>
<text x="659.8" y="46.2" font-size="8.6" fill="#333" stroke="#333" stroke-width="0.22">PC</text>
<text class="cj" x="671.4" y="46.4" font-size="8" fill="#333">閥</text>
<text x="602.2" y="55.8" font-size="8.6" textLength="52" lengthAdjust="spacingAndGlyphs" fill="#333" stroke="#333" stroke-width="0.22">High Pressure</text>
<text x="602.2" y="65.2" font-size="8.6" textLength="41.4" lengthAdjust="spacingAndGlyphs" fill="#333" stroke="#333" stroke-width="0.22">Adjustment</text>
<path d="M653,31.8 L601.8,31.8 L587.2,88.4" stroke="#2e2e2e" stroke-width="1.02" fill="none"/>
<path d="M587.2,88.4 L587.54,81.67 L590.16,82.35Z" fill="#222" stroke="#222" stroke-width="0.3"/>
<path d="M658,67.7 L601.6,67.7 L586.4,104.8" stroke="#2e2e2e" stroke-width="1.02" fill="none"/>
<path d="M586.4,104.8 L587.65,98.18 L590.15,99.2Z" fill="#222" stroke="#222" stroke-width="0.3"/>
<path d="M682.59,26.2 A12.3,12.3 0 1 1 696.05,23.34" stroke="#2e2e2e" stroke-width="1.02" fill="none"/>
<path d="M691.11,26.15 L695.73,21.57 L697.41,24.53Z" fill="#222" stroke="#222" stroke-width="0.3"/>
<text x="671.2" y="34.8" font-size="8.4" textLength="17" lengthAdjust="spacing" fill="#333" stroke="#333" stroke-width="0.22">INC.</text>
<text class="cj" x="688.6" y="35.6" font-size="8.6" letter-spacing="0.1" fill="#333">升壓</text>
<text class="cj" x="602.6" y="285.4" font-size="8" letter-spacing="0.15" fill="#333">差壓調整螺絲</text>
<text x="651.6" y="285.2" font-size="8.6" fill="#333" stroke="#333" stroke-width="0.22">FC</text>
<text class="cj" x="663" y="285.4" font-size="8" fill="#333">閥</text>
<text x="602.4" y="294.5" font-size="8.6" textLength="50.4" lengthAdjust="spacingAndGlyphs" fill="#333" stroke="#333" stroke-width="0.22">Low Pressure</text>
<text x="602.4" y="304.1" font-size="8.6" textLength="41.4" lengthAdjust="spacingAndGlyphs" fill="#333" stroke="#333" stroke-width="0.22">Adjustment</text>
<text class="cj" x="602.6" y="318.3" font-size="8" letter-spacing="0.15" fill="#333">最高壓調整螺絲</text>
<text x="659.8" y="318.1" font-size="8.6" fill="#333" stroke="#333" stroke-width="0.22">PC</text>
<text class="cj" x="671.4" y="318.3" font-size="8" fill="#333">閥</text>
<text x="602.2" y="327.7" font-size="8.6" textLength="52" lengthAdjust="spacingAndGlyphs" fill="#333" stroke="#333" stroke-width="0.22">High Pressure</text>
<text x="602.2" y="337.1" font-size="8.6" textLength="41.4" lengthAdjust="spacingAndGlyphs" fill="#333" stroke="#333" stroke-width="0.22">Adjustment</text>
<path d="M653,306.5 L601.8,306.5 L587.2,363.6" stroke="#2e2e2e" stroke-width="1.02" fill="none"/>
<path d="M587.2,363.6 L587.53,356.87 L590.14,357.54Z" fill="#222" stroke="#222" stroke-width="0.3"/>
<path d="M655.6,339.5 L601.8,339.5 L586.6,380.2" stroke="#2e2e2e" stroke-width="1.02" fill="none"/>
<path d="M586.6,380.2 L587.64,373.54 L590.17,374.49Z" fill="#222" stroke="#222" stroke-width="0.3"/>
<text x="663.4" y="334" font-size="8.6" fill="#333" stroke="#333" stroke-width="0.22">(</text>
<text class="cj" x="666.4" y="334.2" font-size="8.4" letter-spacing="0.2" fill="#333">嚴禁調整</text>
<text x="700.8" y="334" font-size="8.6" fill="#333" stroke="#333" stroke-width="0.22">)</text>
<text x="665.6" y="343" font-size="8.4" textLength="36" lengthAdjust="spacing" fill="#333" stroke="#333" stroke-width="0.22">Warning:</text>
<text x="660.4" y="353.2" font-size="8.4" textLength="46.6" lengthAdjust="spacing" fill="#333" stroke="#333" stroke-width="0.22">don't adjust</text>
<text class="cj" x="602.6" y="594.5" font-size="8" letter-spacing="0.15" fill="#333">差壓調整螺絲</text>
<text x="651.6" y="594.3" font-size="8.6" fill="#333" stroke="#333" stroke-width="0.22">FC</text>
<text class="cj" x="663" y="594.5" font-size="8" fill="#333">閥</text>
<text x="602.4" y="603.6" font-size="8.6" textLength="50.4" lengthAdjust="spacingAndGlyphs" fill="#333" stroke="#333" stroke-width="0.22">Low Pressure</text>
<text x="602.4" y="613.2" font-size="8.6" textLength="41.4" lengthAdjust="spacingAndGlyphs" fill="#333" stroke="#333" stroke-width="0.22">Adjustment</text>
<text class="cj" x="602.6" y="626.6" font-size="8" letter-spacing="0.15" fill="#333">最高壓調整螺絲</text>
<text x="659.8" y="626.4" font-size="8.6" fill="#333" stroke="#333" stroke-width="0.22">PC</text>
<text class="cj" x="671.4" y="626.6" font-size="8" fill="#333">閥</text>
<text x="602.2" y="636" font-size="8.6" textLength="52" lengthAdjust="spacingAndGlyphs" fill="#333" stroke="#333" stroke-width="0.22">High Pressure</text>
<text x="602.2" y="645.4" font-size="8.6" textLength="41.4" lengthAdjust="spacingAndGlyphs" fill="#333" stroke="#333" stroke-width="0.22">Adjustment</text>
<path d="M653,615.5 L601.8,615.5 L587.2,671.9" stroke="#2e2e2e" stroke-width="1.02" fill="none"/>
<path d="M587.2,671.9 L587.55,665.17 L590.16,665.85Z" fill="#222" stroke="#222" stroke-width="0.3"/>
<path d="M658,647.8 L601.6,647.8 L586.4,688.3" stroke="#2e2e2e" stroke-width="1.02" fill="none"/>
<path d="M586.4,688.3 L587.46,681.65 L589.98,682.6Z" fill="#222" stroke="#222" stroke-width="0.3"/>
<path d="M683.99,608 A12.3,12.3 0 1 1 697.45,605.14" stroke="#2e2e2e" stroke-width="1.02" fill="none"/>
<path d="M692.51,607.95 L697.13,603.37 L698.81,606.33Z" fill="#222" stroke="#222" stroke-width="0.3"/>
<text x="672.6" y="616.6" font-size="8.4" textLength="17" lengthAdjust="spacing" fill="#333" stroke="#333" stroke-width="0.22">INC.</text>
<text class="cj" x="690" y="617.4" font-size="8.6" letter-spacing="0.1" fill="#333">升壓</text>
<text class="cj" x="614.2" y="872.8" font-size="8" letter-spacing="0.15" fill="#333">差壓調整螺絲</text>
<text x="663.2" y="872.6" font-size="8.6" fill="#333" stroke="#333" stroke-width="0.22">FC</text>
<text class="cj" x="674.6" y="872.8" font-size="8" fill="#333">閥</text>
</svg>
</body></html>
